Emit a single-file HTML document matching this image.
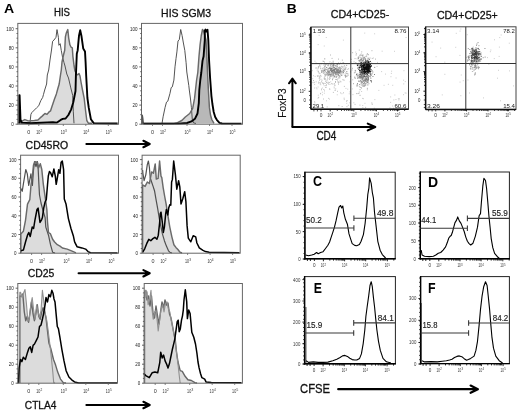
<!DOCTYPE html>
<html><head><meta charset="utf-8"><style>
html,body{margin:0;padding:0;background:#fff;}
svg{display:block;will-change:transform;font-family:"Liberation Sans",sans-serif;}
</style></head><body>
<svg width="520" height="413" viewBox="0 0 520 413">
<rect width="520" height="413" fill="#fff"/>
<text x="4.0" y="13.3" font-size="12.01" font-weight="bold" fill="#000" textLength="10.2" lengthAdjust="spacingAndGlyphs" >A</text>
<text x="54.0" y="16.4" font-size="11.03" font-weight="normal" fill="#111" stroke="#111" stroke-width="0.3" textLength="16.0" lengthAdjust="spacingAndGlyphs" >HIS</text>
<text x="161.1" y="16.5" font-size="11.17" font-weight="normal" fill="#111" stroke="#111" stroke-width="0.3" textLength="50.1" lengthAdjust="spacingAndGlyphs" >HIS SGM3</text>
<text x="25.6" y="149.0" font-size="11.03" font-weight="normal" fill="#111" stroke="#111" stroke-width="0.3" textLength="42.5" lengthAdjust="spacingAndGlyphs" >CD45RO</text>
<text x="27.8" y="277.2" font-size="11.03" font-weight="normal" fill="#111" stroke="#111" stroke-width="0.3" textLength="26.6" lengthAdjust="spacingAndGlyphs" >CD25</text>
<text x="24.8" y="408.5" font-size="11.03" font-weight="normal" fill="#111" stroke="#111" stroke-width="0.3" textLength="31.7" lengthAdjust="spacingAndGlyphs" >CTLA4</text>
<path d="M86.4 144.0H148.7M143.4 140.8L149.7 144.0L143.4 147.2" fill="none" stroke="#000" stroke-width="2.1" stroke-linecap="round" stroke-linejoin="round"/>
<path d="M78.6 273.3H148.7M143.4 270.1L149.7 273.3L143.4 276.5" fill="none" stroke="#000" stroke-width="2.1" stroke-linecap="round" stroke-linejoin="round"/>
<path d="M86.4 405.0H148.7M143.4 401.8L149.7 405.0L143.4 408.2" fill="none" stroke="#000" stroke-width="2.1" stroke-linecap="round" stroke-linejoin="round"/>
<path d="M18.5 123.3L21.4 121.3L24.8 119.6L28.3 120.9L34.4 120.5L37.9 120.0L40.1 117.9L42.2 116.1L44.0 114.4L44.9 113.5L47.0 114.4L48.8 112.2L50.5 110.9L51.8 107.0L52.9 103.7L54.5 99.0L56.4 93.9L58.0 88.0L59.2 84.0L60.5 75.0L61.3 70.0L62.0 62.0L63.5 55.0L64.7 50.2L65.4 36.9L66.2 33.3L67.8 29.6L68.7 38.1L69.9 44.8L71.1 47.2L72.3 47.8L72.9 56.3L74.1 66.0L75.0 71.0L76.5 74.0L77.7 74.8L79.0 73.5L80.0 76.0L81.0 82.0L82.5 90.0L84.2 98.3L85.5 110.0L86.8 120.5L88.5 123.3L92.0 123.3Z" fill="#dcdcdc" stroke="none" stroke-width="1" stroke-linejoin="round"/>
<path d="M18.5 123.3L30.0 122.6L30.9 114.4L31.8 112.6L34.4 110.0L36.6 107.8L38.8 105.7L39.8 103.0L40.9 100.4L42.7 97.4L43.5 94.4L44.7 90.0L46.6 84.0L47.3 75.0L48.7 70.0L50.0 60.0L51.5 50.0L52.6 41.3L54.0 40.0L56.0 37.3L57.0 29.6L58.4 37.3L58.9 45.3L60.2 43.7L61.3 50.6L62.6 57.5L64.0 62.6L65.0 66.0L66.8 74.0L68.5 78.0L70.8 87.9L72.7 95.4L73.3 111.8L74.0 123.3" fill="none" stroke="#4a4a4a" stroke-width="0.95" stroke-linejoin="round"/>
<path d="M18.5 123.3L21.4 121.3L24.8 119.6L28.3 120.9L34.4 120.5L37.9 120.0L40.1 117.9L42.2 116.1L44.0 114.4L44.9 113.5L47.0 114.4L48.8 112.2L50.5 110.9L51.8 107.0L52.9 103.7L54.5 99.0L56.4 93.9L58.0 88.0L59.2 84.0L60.5 75.0L61.3 70.0L62.0 62.0L63.5 55.0L64.7 50.2L65.4 36.9L66.2 33.3L67.8 29.6L68.7 38.1L69.9 44.8L71.1 47.2L72.3 47.8L72.9 56.3L74.1 66.0L75.0 71.0L76.5 74.0L77.7 74.8L79.0 73.5L80.0 76.0L81.0 82.0L82.5 90.0L84.2 98.3L85.5 110.0L86.8 120.5L88.5 123.3L92.0 123.3" fill="none" stroke="#6a6a6a" stroke-width="1.45" stroke-linejoin="round"/>
<path d="M19.3 123.3L19.3 95.2L19.6 95.2L20.5 119.6L21.8 122.6L30.0 123.2L52.9 122.2L57.0 122.6L60.7 119.9L62.8 118.9L65.6 118.5L68.4 115.0L71.2 109.3L73.3 102.3L75.5 91.0L75.9 76.0L76.8 53.8L77.7 50.2L79.0 35.7L80.2 30.2L81.4 35.7L83.2 48.4L85.0 51.4L85.6 62.3L86.2 76.0L87.4 98.0L88.8 108.0L90.9 119.2L93.7 123.1L117.6 123.5" fill="none" stroke="#000" stroke-width="1.9" stroke-linejoin="round"/>
<path d="M142.5 123.5L174.0 123.4L177.5 122.7L181.8 120.5L185.3 117.0L189.7 113.5L192.7 108.3L194.5 98.7L195.5 90.0L196.6 80.0L197.8 72.5L199.0 56.2L200.1 44.6L201.2 36.0L202.5 29.5L203.5 31.0L205.0 36.0L206.0 40.0L206.8 55.0L207.5 72.0L208.4 90.0L209.4 107.4L210.5 115.0L211.8 119.5L214.0 123.3Z" fill="#d6d6d6" stroke="none" stroke-width="1" stroke-linejoin="round"/>
<path d="M191.4 121.4L194.9 118.8L197.5 113.5L198.8 103.1L199.3 90.0L200.3 80.0L201.3 72.5L202.5 60.9L203.6 56.2L204.2 48.0L204.8 40.0L204.8 31.0L206.0 40.0L206.8 55.0L207.5 72.0L208.4 90.0L209.4 107.4L210.5 115.0L211.8 119.5L214.0 123.3L191.4 123.3Z" fill="#b8b8b8" stroke="none" stroke-width="1" stroke-linejoin="round"/>
<path d="M142.0 123.5L162.0 123.6L163.1 116.8L165.1 107.3L166.5 102.1L167.8 101.2L169.9 93.7L171.2 87.6L172.3 86.9L173.9 80.1L175.0 66.8L176.0 58.6L176.9 51.9L178.0 41.0L179.3 39.6L180.7 29.5L182.1 35.6L183.4 43.0L184.8 50.5L186.1 62.7L186.8 72.0L188.8 85.6L189.3 90.0L190.5 99.0L191.4 107.4L192.3 119.6L193.6 122.9L196.0 123.5" fill="none" stroke="#4a4a4a" stroke-width="0.95" stroke-linejoin="round"/>
<path d="M142.5 123.5L174.0 123.4L177.5 122.7L181.8 120.5L185.3 117.0L189.7 113.5L192.7 108.3L194.5 98.7L195.5 90.0L196.6 80.0L197.8 72.5L199.0 56.2L200.1 44.6L201.2 36.0L202.5 29.5L203.5 31.0L205.0 36.0L206.0 40.0L206.8 55.0L207.5 72.0L208.4 90.0L209.4 107.4L210.5 115.0L211.8 119.5L214.0 123.3" fill="none" stroke="#6a6a6a" stroke-width="1.45" stroke-linejoin="round"/>
<path d="M142.4 123.6L142.4 115.0L142.9 118.0L143.5 123.6" fill="none" stroke="#555" stroke-width="1.1" stroke-linejoin="round"/>
<path d="M143.5 123.6L178.4 123.6L187.1 123.0L191.4 121.4L194.9 118.8L197.5 113.5L198.8 103.1L199.3 90.0L200.3 80.0L201.3 72.5L202.5 60.9L203.6 56.2L204.2 48.0L204.8 40.0L204.8 30.7L205.5 29.5L206.2 31.5L207.5 29.8L208.3 40.0L209.1 60.9L210.1 78.0L211.4 95.8L212.4 104.0L213.7 112.0L215.2 117.0L216.8 119.8L219.5 122.8L222.0 123.5L241.5 123.6" fill="none" stroke="#000" stroke-width="1.9" stroke-linejoin="round"/>
<path d="M20.8 253.0L20.8 234.0L23.4 231.2L25.5 220.3L27.5 204.1L29.8 199.7L31.0 185.0L32.4 176.1L33.5 165.0L35.0 161.8L36.5 162.0L37.6 163.0L38.5 168.0L40.3 163.7L41.8 169.5L43.3 184.1L45.4 198.6L46.9 210.2L47.5 222.0L48.5 232.5L50.5 233.9L52.6 239.3L54.6 242.0L57.3 244.7L60.0 246.1L62.4 248.0L67.2 249.1L73.3 251.6L76.0 252.8Z" fill="#dcdcdc" stroke="none" stroke-width="1" stroke-linejoin="round"/>
<path d="M20.7 188.4L22.2 191.3L23.6 182.6L25.8 169.5L27.3 173.9L28.7 185.5L30.9 173.9L32.4 185.5L33.5 170.0L34.5 161.5L36.0 166.6L37.4 161.5L38.2 169.5L38.9 184.1L39.5 195.0L41.0 203.0L43.1 210.8L45.1 217.6L45.8 227.1L48.5 235.2L50.5 244.7L52.6 252.2L55.0 253.0" fill="none" stroke="#505050" stroke-width="1.2" stroke-linejoin="round"/>
<path d="M20.8 253.0L20.8 234.0L23.4 231.2L25.5 220.3L27.5 204.1L29.8 199.7L31.0 185.0L32.4 176.1L33.5 165.0L35.0 161.8L36.5 162.0L37.6 163.0L38.5 168.0L40.3 163.7L41.8 169.5L43.3 184.1L45.4 198.6L46.9 210.2L47.5 222.0L48.5 232.5L50.5 233.9L52.6 239.3L54.6 242.0L57.3 244.7L60.0 246.1L62.4 248.0L67.2 249.1L73.3 251.6L76.0 252.8" fill="none" stroke="#6a6a6a" stroke-width="1.45" stroke-linejoin="round"/>
<path d="M20.7 250.8L23.4 250.1L25.5 242.0L27.5 235.2L28.8 232.5L30.2 236.6L32.2 227.1L33.6 228.5L34.9 220.3L37.0 209.5L38.1 208.1L39.0 214.9L40.0 222.4L41.7 219.6L42.4 217.6L43.7 208.1L45.1 202.0L46.3 199.5L47.5 185.0L48.3 176.0L49.4 171.6L50.7 172.9L52.2 176.8L53.9 169.0L55.3 176.2L56.2 184.3L57.0 180.0L58.7 169.7L59.9 173.3L61.1 162.3L62.3 161.1L63.6 169.7L64.3 199.0L66.0 203.9L68.4 218.6L70.9 228.3L73.3 235.7L74.6 241.8L77.0 246.7L81.9 247.9L85.6 249.1L88.0 251.6L90.5 252.8L117.5 253.0" fill="none" stroke="#000" stroke-width="1.5" stroke-linejoin="round"/>
<path d="M142.6 253.0L142.6 184.9L145.1 186.4L147.3 182.0L149.4 183.5L151.6 171.9L153.4 173.3L155.2 163.9L156.3 179.1L158.1 178.4L159.6 161.0L161.0 176.2L161.8 177.7L163.2 187.8L164.7 196.5L166.1 203.8L167.8 214.9L169.8 227.1L171.8 236.6L173.9 244.7L175.9 247.4L177.9 249.5L180.0 252.2L182.0 253.0Z" fill="#dcdcdc" stroke="none" stroke-width="1" stroke-linejoin="round"/>
<path d="M142.6 170.0L142.9 173.3L144.1 180.6L145.8 174.8L147.3 164.6L148.4 161.0L149.4 167.5L150.2 177.7L151.6 182.0L153.1 186.4L154.5 190.7L156.0 199.4L157.6 208.1L159.6 220.3L162.4 233.9L164.4 240.7L166.4 246.1L168.5 250.8L169.8 252.2L172.0 253.0" fill="none" stroke="#505050" stroke-width="1.2" stroke-linejoin="round"/>
<path d="M142.6 253.0L142.6 184.9L145.1 186.4L147.3 182.0L149.4 183.5L151.6 171.9L153.4 173.3L155.2 163.9L156.3 179.1L158.1 178.4L159.6 161.0L161.0 176.2L161.8 177.7L163.2 187.8L164.7 196.5L166.1 203.8L167.8 214.9L169.8 227.1L171.8 236.6L173.9 244.7L175.9 247.4L177.9 249.5L180.0 252.2L182.0 253.0" fill="none" stroke="#6a6a6a" stroke-width="1.45" stroke-linejoin="round"/>
<path d="M142.7 252.2L144.7 248.8L146.8 243.4L148.8 239.3L150.8 240.7L152.9 238.6L154.9 237.3L156.9 239.3L158.3 235.2L159.6 223.0L160.3 213.6L161.0 212.2L162.4 223.0L163.3 232.5L164.4 227.1L165.7 213.6L166.4 209.5L167.8 214.9L168.7 208.1L169.8 204.7L170.8 205.2L171.6 182.0L172.4 179.4L173.7 161.1L175.4 174.6L176.8 189.2L178.6 180.7L179.8 186.8L181.0 203.9L182.7 199.0L184.7 191.7L185.9 201.5L187.1 225.9L188.3 238.1L190.8 241.8L193.2 235.7L195.7 236.9L196.9 243.0L199.3 247.9L203.0 250.4L205.5 251.6L209.1 252.3L239.5 252.8" fill="none" stroke="#000" stroke-width="1.5" stroke-linejoin="round"/>
<path d="M19.8 383.0L19.8 296.0L21.4 296.1L22.8 293.9L24.3 312.0L25.7 320.7L27.2 316.4L28.6 322.2L30.1 312.0L31.5 301.9L33.0 313.5L34.4 320.7L35.9 313.5L37.3 304.8L38.8 316.4L40.2 319.3L41.7 312.0L43.1 307.7L44.6 312.0L46.0 317.8L47.5 330.9L48.9 343.0L50.7 348.2L53.5 359.5L55.6 365.1L57.7 372.1L60.5 379.1L63.3 382.6L66.0 383.0Z" fill="#dcdcdc" stroke="none" stroke-width="1" stroke-linejoin="round"/>
<path d="M19.8 383.0L19.8 292.4L20.6 292.4L22.1 297.5L23.5 293.2L25.0 289.5L26.4 303.3L27.9 321.5L29.3 317.8L30.8 304.8L32.2 297.5L33.7 310.6L35.1 319.3L36.6 304.8L38.0 312.0L39.5 317.1L41.0 310.6L42.4 290.3L43.9 301.9L45.3 313.5L46.8 320.7L48.2 330.9L49.7 343.0L51.4 358.0L52.8 372.1L53.7 382.6L55.0 383.0Z" fill="#dcdcdc" stroke="none" stroke-width="1" stroke-linejoin="round"/>
<path d="M19.8 383.0L19.8 296.0L21.4 296.1L22.8 293.9L24.3 312.0L25.7 320.7L27.2 316.4L28.6 322.2L30.1 312.0L31.5 301.9L33.0 313.5L34.4 320.7L35.9 313.5L37.3 304.8L38.8 316.4L40.2 319.3L41.7 312.0L43.1 307.7L44.6 312.0L46.0 317.8L47.5 330.9L48.9 343.0L50.7 348.2L53.5 359.5L55.6 365.1L57.7 372.1L60.5 379.1L63.3 382.6L66.0 383.0" fill="none" stroke="#666" stroke-width="1.4" stroke-linejoin="round"/>
<path d="M19.8 383.0L19.8 292.4L20.6 292.4L22.1 297.5L23.5 293.2L25.0 289.5L26.4 303.3L27.9 321.5L29.3 317.8L30.8 304.8L32.2 297.5L33.7 310.6L35.1 319.3L36.6 304.8L38.0 312.0L39.5 317.1L41.0 310.6L42.4 290.3L43.9 301.9L45.3 313.5L46.8 320.7L48.2 330.9L49.7 343.0L51.4 358.0L52.8 372.1L53.7 382.6L55.0 383.0" fill="none" stroke="#909090" stroke-width="1.1" stroke-linejoin="round"/>
<path d="M18.4 383.3L19.1 367.9L20.5 359.5L21.9 361.6L23.3 357.3L25.4 359.5L27.5 352.4L28.9 348.2L30.3 346.8L31.7 352.4L33.1 345.4L34.5 344.0L36.6 339.8L38.0 337.0L39.5 326.5L41.0 325.1L42.4 319.3L43.9 312.0L45.3 303.3L46.0 297.5L47.5 301.9L48.9 294.6L50.4 296.8L51.8 290.3L53.0 293.2L54.0 299.0L55.0 301.9L56.2 314.9L57.3 326.5L58.4 328.7L59.8 336.7L61.9 349.6L64.0 360.9L66.1 370.7L68.9 377.0L71.7 379.8L74.5 381.9L78.7 383.0L117.0 383.0" fill="none" stroke="#000" stroke-width="1.5" stroke-linejoin="round"/>
<path d="M144.5 383.0L144.5 295.0L145.9 290.5L147.0 300.0L148.5 296.0L150.0 306.0L151.5 296.0L153.0 313.0L154.5 318.0L156.0 306.0L157.5 316.0L159.0 324.0L160.5 312.0L162.0 302.0L163.5 308.0L165.0 300.0L166.5 305.0L168.0 303.0L169.5 314.0L171.0 318.0L172.5 326.0L174.0 334.0L175.3 340.0L176.5 352.0L178.0 362.0L180.2 370.7L182.3 371.4L185.1 376.3L187.9 379.8L191.4 380.5L194.9 382.6L197.0 383.0Z" fill="#dcdcdc" stroke="none" stroke-width="1" stroke-linejoin="round"/>
<path d="M144.5 383.0L144.5 292.0L145.2 290.3L145.9 297.5L147.1 291.7L148.1 304.8L149.5 300.4L151.0 290.3L152.0 309.1L153.2 319.3L154.6 312.0L156.1 310.6L157.5 323.6L158.2 330.9L159.7 319.3L161.1 309.1L162.6 304.8L164.0 312.0L165.5 303.3L167.0 301.9L168.4 309.1L169.9 312.0L171.3 320.7L172.8 328.0L174.2 335.2L176.0 348.2L178.1 365.1L179.5 377.7L180.2 383.0Z" fill="#dcdcdc" stroke="none" stroke-width="1" stroke-linejoin="round"/>
<path d="M144.5 383.0L144.5 295.0L145.9 290.5L147.0 300.0L148.5 296.0L150.0 306.0L151.5 296.0L153.0 313.0L154.5 318.0L156.0 306.0L157.5 316.0L159.0 324.0L160.5 312.0L162.0 302.0L163.5 308.0L165.0 300.0L166.5 305.0L168.0 303.0L169.5 314.0L171.0 318.0L172.5 326.0L174.0 334.0L175.3 340.0L176.5 352.0L178.0 362.0L180.2 370.7L182.3 371.4L185.1 376.3L187.9 379.8L191.4 380.5L194.9 382.6L197.0 383.0" fill="none" stroke="#666" stroke-width="1.4" stroke-linejoin="round"/>
<path d="M144.5 383.0L144.5 292.0L145.2 290.3L145.9 297.5L147.1 291.7L148.1 304.8L149.5 300.4L151.0 290.3L152.0 309.1L153.2 319.3L154.6 312.0L156.1 310.6L157.5 323.6L158.2 330.9L159.7 319.3L161.1 309.1L162.6 304.8L164.0 312.0L165.5 303.3L167.0 301.9L168.4 309.1L169.9 312.0L171.3 320.7L172.8 328.0L174.2 335.2L176.0 348.2L178.1 365.1L179.5 377.7L180.2 383.0" fill="none" stroke="#909090" stroke-width="1.1" stroke-linejoin="round"/>
<path d="M143.7 373.5L145.8 375.6L149.3 377.7L152.1 372.8L154.9 372.1L157.7 372.8L159.8 362.3L160.7 352.2L162.2 358.0L163.6 355.1L165.1 360.9L166.5 363.8L168.0 368.1L169.4 363.8L170.9 356.5L172.4 349.2L173.8 343.4L174.8 339.1L176.0 330.3L177.2 321.6L178.2 320.2L179.2 331.8L180.3 328.9L181.5 320.2L182.5 315.8L183.3 310.0L184.0 300.0L185.3 289.8L186.7 301.6L187.4 318.6L188.7 310.1L190.1 313.5L191.8 332.2L193.8 337.2L195.5 344.0L196.9 353.0L198.0 362.0L199.1 367.9L200.5 373.5L201.9 377.7L204.7 379.1L206.0 381.9L211.3 382.5L241.5 382.8" fill="none" stroke="#000" stroke-width="1.5" stroke-linejoin="round"/>
<path d="M305.6 255.0L308.5 255.8L311.7 255.0L314.2 254.2L316.6 252.5L318.2 253.7L320.6 252.5L323.1 251.7L325.5 248.5L327.9 245.2L329.6 242.0L331.2 237.1L332.8 232.3L334.4 227.4L336.0 220.9L337.7 212.8L339.0 207.2L340.6 205.5L341.7 208.0L342.8 206.0L343.8 212.8L345.4 219.3L347.4 224.2L349.0 233.9L350.6 238.8L352.2 243.6L354.7 245.4L356.7 245.7L359.4 244.6L361.1 241.3L363.4 234.6L365.1 223.5L366.7 207.9L367.8 194.5L368.9 187.8L369.6 177.8L371.2 183.4L372.3 192.3L373.4 197.8L374.5 212.3L376.3 227.9L377.8 241.3L380.1 250.2L382.3 254.6L385.6 258.0" fill="none" stroke="#000" stroke-width="1.1" stroke-linejoin="round"/>
<path d="M421.2 250.1L422.1 255.0L424.5 256.3L429.3 256.6L433.4 256.3L435.8 255.0L438.3 253.3L440.7 252.5L443.1 250.1L445.6 246.9L447.2 242.8L448.8 238.0L450.1 236.3L451.2 235.5L452.4 232.3L453.7 227.4L455.0 222.6L456.6 220.1L457.7 216.9L459.3 220.9L461.0 223.4L462.6 227.4L464.2 231.5L465.8 237.1L467.4 241.2L469.1 243.6L470.7 245.0L473.0 243.2L475.3 236.3L477.5 227.2L479.1 215.8L480.5 213.6L481.4 202.2L482.8 186.2L483.9 178.3L485.5 180.5L486.6 188.5L487.8 202.2L488.9 215.8L490.1 227.2L491.2 238.6L492.8 247.7L494.6 253.4L498.0 257.3L500.3 259.1" fill="none" stroke="#000" stroke-width="1.1" stroke-linejoin="round"/>
<path d="M305.9 306.9L305.9 363.5" fill="none" stroke="#555" stroke-width="1.1" stroke-linejoin="round"/>
<path d="M306.1 360.8L308.5 362.4L313.3 361.9L318.2 362.4L323.1 362.4L327.9 362.1L332.8 360.8L336.8 359.2L340.1 357.5L342.5 355.9L345.0 355.4L347.4 356.4L349.8 358.3L352.2 359.6L354.7 360.0L356.8 360.0L359.6 358.4L361.4 353.9L363.2 343.6L364.8 330.0L365.9 316.3L367.1 307.2L368.7 295.8L370.0 285.5L371.2 281.7L372.3 286.7L373.5 298.1L374.6 307.2L375.7 318.6L376.9 330.0L378.5 341.3L380.3 350.4L383.0 358.4L386.4 361.8L391.0 363.0" fill="none" stroke="#000" stroke-width="1.1" stroke-linejoin="round"/>
<path d="M421.2 303.0L421.2 362.9" fill="none" stroke="#555" stroke-width="1.1" stroke-linejoin="round"/>
<path d="M422.1 360.8L424.5 361.9L431.0 361.6L437.4 361.9L442.3 361.3L446.4 360.8L449.6 360.0L452.0 359.2L454.5 357.5L456.9 356.4L459.3 355.9L461.8 356.7L464.2 358.7L466.6 360.3L468.4 359.6L470.7 358.4L474.1 356.1L475.9 350.4L477.5 341.3L479.1 325.4L480.5 309.4L482.1 295.8L483.7 286.7L485.5 281.7L487.1 285.5L488.2 295.8L489.6 309.4L490.7 323.1L491.9 336.8L493.5 348.2L495.8 356.1L499.2 360.7L502.6 363.0" fill="none" stroke="#000" stroke-width="1.1" stroke-linejoin="round"/>
<rect x="17.8" y="23.4" width="100.7" height="100.8" fill="none" stroke="#666" stroke-width="1"/>
<text x="11.3" y="126.2" font-size="5.6" fill="#222" textLength="2.5" lengthAdjust="spacingAndGlyphs">0</text>
<text x="8.8" y="107.1" font-size="5.6" fill="#222" textLength="5.0" lengthAdjust="spacingAndGlyphs">20</text>
<text x="8.8" y="88.0" font-size="5.6" fill="#222" textLength="5.0" lengthAdjust="spacingAndGlyphs">40</text>
<text x="8.8" y="68.9" font-size="5.6" fill="#222" textLength="5.0" lengthAdjust="spacingAndGlyphs">60</text>
<text x="8.8" y="49.8" font-size="5.6" fill="#222" textLength="5.0" lengthAdjust="spacingAndGlyphs">80</text>
<text x="6.3" y="30.7" font-size="5.6" fill="#222" textLength="7.5" lengthAdjust="spacingAndGlyphs">100</text>
<line x1="15.6" y1="124.2" x2="17.8" y2="124.2" stroke="#555" stroke-width="0.9"/>
<line x1="15.6" y1="105.1" x2="17.8" y2="105.1" stroke="#555" stroke-width="0.9"/>
<line x1="15.6" y1="86.0" x2="17.8" y2="86.0" stroke="#555" stroke-width="0.9"/>
<line x1="15.6" y1="66.9" x2="17.8" y2="66.9" stroke="#555" stroke-width="0.9"/>
<line x1="15.6" y1="47.8" x2="17.8" y2="47.8" stroke="#555" stroke-width="0.9"/>
<line x1="15.6" y1="28.7" x2="17.8" y2="28.7" stroke="#555" stroke-width="0.9"/>
<path d="M17.8 119.4h-1.3M17.8 114.7h-1.3M17.8 109.9h-1.3M17.8 100.3h-1.3M17.8 95.6h-1.3M17.8 90.8h-1.3M17.8 81.2h-1.3M17.8 76.5h-1.3M17.8 71.7h-1.3M17.8 62.1h-1.3M17.8 57.4h-1.3M17.8 52.6h-1.3M17.8 43.0h-1.3M17.8 38.2h-1.3M17.8 33.5h-1.3" stroke="#555" stroke-width="0.9" fill="none"/>
<text x="28.8" y="134.0" font-size="5.4" fill="#333" text-anchor="middle">0</text>
<text x="36.2" y="134.0" font-size="5.4" fill="#333" textLength="4.1" lengthAdjust="spacingAndGlyphs">10</text><text x="40.5" y="131.9" font-size="3.2" fill="#333">2</text>
<text x="60.7" y="134.0" font-size="5.4" fill="#333" textLength="4.1" lengthAdjust="spacingAndGlyphs">10</text><text x="65.0" y="131.9" font-size="3.2" fill="#333">3</text>
<text x="83.2" y="134.0" font-size="5.4" fill="#333" textLength="4.1" lengthAdjust="spacingAndGlyphs">10</text><text x="87.5" y="131.9" font-size="3.2" fill="#333">4</text>
<text x="105.7" y="134.0" font-size="5.4" fill="#333" textLength="4.1" lengthAdjust="spacingAndGlyphs">10</text><text x="110.0" y="131.9" font-size="3.2" fill="#333">5</text>
<line x1="28.8" y1="124.2" x2="28.8" y2="126.0" stroke="#666" stroke-width="0.8"/>
<line x1="38.8" y1="124.2" x2="38.8" y2="126.0" stroke="#666" stroke-width="0.8"/>
<line x1="63.3" y1="124.2" x2="63.3" y2="126.0" stroke="#666" stroke-width="0.8"/>
<line x1="85.8" y1="124.2" x2="85.8" y2="126.0" stroke="#666" stroke-width="0.8"/>
<line x1="108.3" y1="124.2" x2="108.3" y2="126.0" stroke="#666" stroke-width="0.8"/>
<rect x="141.5" y="23.4" width="101.0" height="100.8" fill="none" stroke="#666" stroke-width="1"/>
<text x="135.0" y="126.2" font-size="5.6" fill="#222" textLength="2.5" lengthAdjust="spacingAndGlyphs">0</text>
<text x="132.5" y="107.1" font-size="5.6" fill="#222" textLength="5.0" lengthAdjust="spacingAndGlyphs">20</text>
<text x="132.5" y="88.0" font-size="5.6" fill="#222" textLength="5.0" lengthAdjust="spacingAndGlyphs">40</text>
<text x="132.5" y="68.9" font-size="5.6" fill="#222" textLength="5.0" lengthAdjust="spacingAndGlyphs">60</text>
<text x="132.5" y="49.8" font-size="5.6" fill="#222" textLength="5.0" lengthAdjust="spacingAndGlyphs">80</text>
<text x="130.0" y="30.7" font-size="5.6" fill="#222" textLength="7.5" lengthAdjust="spacingAndGlyphs">100</text>
<line x1="139.3" y1="124.2" x2="141.5" y2="124.2" stroke="#555" stroke-width="0.9"/>
<line x1="139.3" y1="105.1" x2="141.5" y2="105.1" stroke="#555" stroke-width="0.9"/>
<line x1="139.3" y1="86.0" x2="141.5" y2="86.0" stroke="#555" stroke-width="0.9"/>
<line x1="139.3" y1="66.9" x2="141.5" y2="66.9" stroke="#555" stroke-width="0.9"/>
<line x1="139.3" y1="47.8" x2="141.5" y2="47.8" stroke="#555" stroke-width="0.9"/>
<line x1="139.3" y1="28.7" x2="141.5" y2="28.7" stroke="#555" stroke-width="0.9"/>
<path d="M141.5 119.4h-1.3M141.5 114.7h-1.3M141.5 109.9h-1.3M141.5 100.3h-1.3M141.5 95.6h-1.3M141.5 90.8h-1.3M141.5 81.2h-1.3M141.5 76.5h-1.3M141.5 71.7h-1.3M141.5 62.1h-1.3M141.5 57.4h-1.3M141.5 52.6h-1.3M141.5 43.0h-1.3M141.5 38.2h-1.3M141.5 33.5h-1.3" stroke="#555" stroke-width="0.9" fill="none"/>
<text x="152.5" y="134.0" font-size="5.4" fill="#333" text-anchor="middle">0</text>
<text x="159.9" y="134.0" font-size="5.4" fill="#333" textLength="4.1" lengthAdjust="spacingAndGlyphs">10</text><text x="164.2" y="131.9" font-size="3.2" fill="#333">2</text>
<text x="184.4" y="134.0" font-size="5.4" fill="#333" textLength="4.1" lengthAdjust="spacingAndGlyphs">10</text><text x="188.7" y="131.9" font-size="3.2" fill="#333">3</text>
<text x="206.9" y="134.0" font-size="5.4" fill="#333" textLength="4.1" lengthAdjust="spacingAndGlyphs">10</text><text x="211.2" y="131.9" font-size="3.2" fill="#333">4</text>
<text x="229.4" y="134.0" font-size="5.4" fill="#333" textLength="4.1" lengthAdjust="spacingAndGlyphs">10</text><text x="233.7" y="131.9" font-size="3.2" fill="#333">5</text>
<line x1="152.5" y1="124.2" x2="152.5" y2="126.0" stroke="#666" stroke-width="0.8"/>
<line x1="162.5" y1="124.2" x2="162.5" y2="126.0" stroke="#666" stroke-width="0.8"/>
<line x1="187.0" y1="124.2" x2="187.0" y2="126.0" stroke="#666" stroke-width="0.8"/>
<line x1="209.5" y1="124.2" x2="209.5" y2="126.0" stroke="#666" stroke-width="0.8"/>
<line x1="232.0" y1="124.2" x2="232.0" y2="126.0" stroke="#666" stroke-width="0.8"/>
<rect x="20.6" y="155.2" width="97.9" height="98.0" fill="none" stroke="#666" stroke-width="1"/>
<text x="14.1" y="255.2" font-size="5.6" fill="#222" textLength="2.5" lengthAdjust="spacingAndGlyphs">0</text>
<text x="11.6" y="236.5" font-size="5.6" fill="#222" textLength="5.0" lengthAdjust="spacingAndGlyphs">20</text>
<text x="11.6" y="217.8" font-size="5.6" fill="#222" textLength="5.0" lengthAdjust="spacingAndGlyphs">40</text>
<text x="11.6" y="199.0" font-size="5.6" fill="#222" textLength="5.0" lengthAdjust="spacingAndGlyphs">60</text>
<text x="11.6" y="180.3" font-size="5.6" fill="#222" textLength="5.0" lengthAdjust="spacingAndGlyphs">80</text>
<text x="9.1" y="161.6" font-size="5.6" fill="#222" textLength="7.5" lengthAdjust="spacingAndGlyphs">100</text>
<line x1="18.4" y1="253.2" x2="20.6" y2="253.2" stroke="#555" stroke-width="0.9"/>
<line x1="18.4" y1="234.5" x2="20.6" y2="234.5" stroke="#555" stroke-width="0.9"/>
<line x1="18.4" y1="215.8" x2="20.6" y2="215.8" stroke="#555" stroke-width="0.9"/>
<line x1="18.4" y1="197.0" x2="20.6" y2="197.0" stroke="#555" stroke-width="0.9"/>
<line x1="18.4" y1="178.3" x2="20.6" y2="178.3" stroke="#555" stroke-width="0.9"/>
<line x1="18.4" y1="159.6" x2="20.6" y2="159.6" stroke="#555" stroke-width="0.9"/>
<path d="M20.6 248.5h-1.3M20.6 243.8h-1.3M20.6 239.2h-1.3M20.6 229.8h-1.3M20.6 225.1h-1.3M20.6 220.4h-1.3M20.6 211.1h-1.3M20.6 206.4h-1.3M20.6 201.7h-1.3M20.6 192.4h-1.3M20.6 187.7h-1.3M20.6 183.0h-1.3M20.6 173.6h-1.3M20.6 169.0h-1.3M20.6 164.3h-1.3" stroke="#555" stroke-width="0.9" fill="none"/>
<text x="31.6" y="263.0" font-size="5.4" fill="#333" text-anchor="middle">0</text>
<text x="39.0" y="263.0" font-size="5.4" fill="#333" textLength="4.1" lengthAdjust="spacingAndGlyphs">10</text><text x="43.3" y="260.9" font-size="3.2" fill="#333">2</text>
<text x="63.5" y="263.0" font-size="5.4" fill="#333" textLength="4.1" lengthAdjust="spacingAndGlyphs">10</text><text x="67.8" y="260.9" font-size="3.2" fill="#333">3</text>
<text x="86.0" y="263.0" font-size="5.4" fill="#333" textLength="4.1" lengthAdjust="spacingAndGlyphs">10</text><text x="90.3" y="260.9" font-size="3.2" fill="#333">4</text>
<text x="108.5" y="263.0" font-size="5.4" fill="#333" textLength="4.1" lengthAdjust="spacingAndGlyphs">10</text><text x="112.8" y="260.9" font-size="3.2" fill="#333">5</text>
<line x1="31.6" y1="253.2" x2="31.6" y2="255.0" stroke="#666" stroke-width="0.8"/>
<line x1="41.6" y1="253.2" x2="41.6" y2="255.0" stroke="#666" stroke-width="0.8"/>
<line x1="66.1" y1="253.2" x2="66.1" y2="255.0" stroke="#666" stroke-width="0.8"/>
<line x1="88.6" y1="253.2" x2="88.6" y2="255.0" stroke="#666" stroke-width="0.8"/>
<line x1="111.1" y1="253.2" x2="111.1" y2="255.0" stroke="#666" stroke-width="0.8"/>
<rect x="142.1" y="155.2" width="98.1" height="98.0" fill="none" stroke="#666" stroke-width="1"/>
<text x="135.6" y="255.2" font-size="5.6" fill="#222" textLength="2.5" lengthAdjust="spacingAndGlyphs">0</text>
<text x="133.1" y="236.5" font-size="5.6" fill="#222" textLength="5.0" lengthAdjust="spacingAndGlyphs">20</text>
<text x="133.1" y="217.8" font-size="5.6" fill="#222" textLength="5.0" lengthAdjust="spacingAndGlyphs">40</text>
<text x="133.1" y="199.0" font-size="5.6" fill="#222" textLength="5.0" lengthAdjust="spacingAndGlyphs">60</text>
<text x="133.1" y="180.3" font-size="5.6" fill="#222" textLength="5.0" lengthAdjust="spacingAndGlyphs">80</text>
<text x="130.6" y="161.6" font-size="5.6" fill="#222" textLength="7.5" lengthAdjust="spacingAndGlyphs">100</text>
<line x1="139.9" y1="253.2" x2="142.1" y2="253.2" stroke="#555" stroke-width="0.9"/>
<line x1="139.9" y1="234.5" x2="142.1" y2="234.5" stroke="#555" stroke-width="0.9"/>
<line x1="139.9" y1="215.8" x2="142.1" y2="215.8" stroke="#555" stroke-width="0.9"/>
<line x1="139.9" y1="197.0" x2="142.1" y2="197.0" stroke="#555" stroke-width="0.9"/>
<line x1="139.9" y1="178.3" x2="142.1" y2="178.3" stroke="#555" stroke-width="0.9"/>
<line x1="139.9" y1="159.6" x2="142.1" y2="159.6" stroke="#555" stroke-width="0.9"/>
<path d="M142.1 248.5h-1.3M142.1 243.8h-1.3M142.1 239.2h-1.3M142.1 229.8h-1.3M142.1 225.1h-1.3M142.1 220.4h-1.3M142.1 211.1h-1.3M142.1 206.4h-1.3M142.1 201.7h-1.3M142.1 192.4h-1.3M142.1 187.7h-1.3M142.1 183.0h-1.3M142.1 173.6h-1.3M142.1 169.0h-1.3M142.1 164.3h-1.3" stroke="#555" stroke-width="0.9" fill="none"/>
<text x="153.1" y="263.0" font-size="5.4" fill="#333" text-anchor="middle">0</text>
<text x="160.5" y="263.0" font-size="5.4" fill="#333" textLength="4.1" lengthAdjust="spacingAndGlyphs">10</text><text x="164.8" y="260.9" font-size="3.2" fill="#333">2</text>
<text x="185.0" y="263.0" font-size="5.4" fill="#333" textLength="4.1" lengthAdjust="spacingAndGlyphs">10</text><text x="189.3" y="260.9" font-size="3.2" fill="#333">3</text>
<text x="207.5" y="263.0" font-size="5.4" fill="#333" textLength="4.1" lengthAdjust="spacingAndGlyphs">10</text><text x="211.8" y="260.9" font-size="3.2" fill="#333">4</text>
<text x="230.0" y="263.0" font-size="5.4" fill="#333" textLength="4.1" lengthAdjust="spacingAndGlyphs">10</text><text x="234.3" y="260.9" font-size="3.2" fill="#333">5</text>
<line x1="153.1" y1="253.2" x2="153.1" y2="255.0" stroke="#666" stroke-width="0.8"/>
<line x1="163.1" y1="253.2" x2="163.1" y2="255.0" stroke="#666" stroke-width="0.8"/>
<line x1="187.6" y1="253.2" x2="187.6" y2="255.0" stroke="#666" stroke-width="0.8"/>
<line x1="210.1" y1="253.2" x2="210.1" y2="255.0" stroke="#666" stroke-width="0.8"/>
<line x1="232.6" y1="253.2" x2="232.6" y2="255.0" stroke="#666" stroke-width="0.8"/>
<rect x="17.8" y="283.5" width="99.7" height="99.7" fill="none" stroke="#666" stroke-width="1"/>
<text x="11.3" y="385.2" font-size="5.6" fill="#222" textLength="2.5" lengthAdjust="spacingAndGlyphs">0</text>
<text x="8.8" y="366.2" font-size="5.6" fill="#222" textLength="5.0" lengthAdjust="spacingAndGlyphs">20</text>
<text x="8.8" y="347.2" font-size="5.6" fill="#222" textLength="5.0" lengthAdjust="spacingAndGlyphs">40</text>
<text x="8.8" y="328.2" font-size="5.6" fill="#222" textLength="5.0" lengthAdjust="spacingAndGlyphs">60</text>
<text x="8.8" y="309.2" font-size="5.6" fill="#222" textLength="5.0" lengthAdjust="spacingAndGlyphs">80</text>
<text x="6.3" y="290.2" font-size="5.6" fill="#222" textLength="7.5" lengthAdjust="spacingAndGlyphs">100</text>
<line x1="15.6" y1="383.2" x2="17.8" y2="383.2" stroke="#555" stroke-width="0.9"/>
<line x1="15.6" y1="364.2" x2="17.8" y2="364.2" stroke="#555" stroke-width="0.9"/>
<line x1="15.6" y1="345.2" x2="17.8" y2="345.2" stroke="#555" stroke-width="0.9"/>
<line x1="15.6" y1="326.2" x2="17.8" y2="326.2" stroke="#555" stroke-width="0.9"/>
<line x1="15.6" y1="307.2" x2="17.8" y2="307.2" stroke="#555" stroke-width="0.9"/>
<line x1="15.6" y1="288.2" x2="17.8" y2="288.2" stroke="#555" stroke-width="0.9"/>
<path d="M17.8 378.4h-1.3M17.8 373.7h-1.3M17.8 368.9h-1.3M17.8 359.4h-1.3M17.8 354.7h-1.3M17.8 349.9h-1.3M17.8 340.4h-1.3M17.8 335.7h-1.3M17.8 330.9h-1.3M17.8 321.4h-1.3M17.8 316.7h-1.3M17.8 311.9h-1.3M17.8 302.4h-1.3M17.8 297.7h-1.3M17.8 292.9h-1.3" stroke="#555" stroke-width="0.9" fill="none"/>
<text x="28.8" y="393.0" font-size="5.4" fill="#333" text-anchor="middle">0</text>
<text x="36.2" y="393.0" font-size="5.4" fill="#333" textLength="4.1" lengthAdjust="spacingAndGlyphs">10</text><text x="40.5" y="390.9" font-size="3.2" fill="#333">2</text>
<text x="60.7" y="393.0" font-size="5.4" fill="#333" textLength="4.1" lengthAdjust="spacingAndGlyphs">10</text><text x="65.0" y="390.9" font-size="3.2" fill="#333">3</text>
<text x="83.2" y="393.0" font-size="5.4" fill="#333" textLength="4.1" lengthAdjust="spacingAndGlyphs">10</text><text x="87.5" y="390.9" font-size="3.2" fill="#333">4</text>
<text x="105.7" y="393.0" font-size="5.4" fill="#333" textLength="4.1" lengthAdjust="spacingAndGlyphs">10</text><text x="110.0" y="390.9" font-size="3.2" fill="#333">5</text>
<line x1="28.8" y1="383.2" x2="28.8" y2="385.0" stroke="#666" stroke-width="0.8"/>
<line x1="38.8" y1="383.2" x2="38.8" y2="385.0" stroke="#666" stroke-width="0.8"/>
<line x1="63.3" y1="383.2" x2="63.3" y2="385.0" stroke="#666" stroke-width="0.8"/>
<line x1="85.8" y1="383.2" x2="85.8" y2="385.0" stroke="#666" stroke-width="0.8"/>
<line x1="108.3" y1="383.2" x2="108.3" y2="385.0" stroke="#666" stroke-width="0.8"/>
<rect x="144.2" y="283.5" width="98.2" height="99.7" fill="none" stroke="#666" stroke-width="1"/>
<text x="137.7" y="385.2" font-size="5.6" fill="#222" textLength="2.5" lengthAdjust="spacingAndGlyphs">0</text>
<text x="135.2" y="366.2" font-size="5.6" fill="#222" textLength="5.0" lengthAdjust="spacingAndGlyphs">20</text>
<text x="135.2" y="347.2" font-size="5.6" fill="#222" textLength="5.0" lengthAdjust="spacingAndGlyphs">40</text>
<text x="135.2" y="328.2" font-size="5.6" fill="#222" textLength="5.0" lengthAdjust="spacingAndGlyphs">60</text>
<text x="135.2" y="309.2" font-size="5.6" fill="#222" textLength="5.0" lengthAdjust="spacingAndGlyphs">80</text>
<text x="132.7" y="290.2" font-size="5.6" fill="#222" textLength="7.5" lengthAdjust="spacingAndGlyphs">100</text>
<line x1="142.0" y1="383.2" x2="144.2" y2="383.2" stroke="#555" stroke-width="0.9"/>
<line x1="142.0" y1="364.2" x2="144.2" y2="364.2" stroke="#555" stroke-width="0.9"/>
<line x1="142.0" y1="345.2" x2="144.2" y2="345.2" stroke="#555" stroke-width="0.9"/>
<line x1="142.0" y1="326.2" x2="144.2" y2="326.2" stroke="#555" stroke-width="0.9"/>
<line x1="142.0" y1="307.2" x2="144.2" y2="307.2" stroke="#555" stroke-width="0.9"/>
<line x1="142.0" y1="288.2" x2="144.2" y2="288.2" stroke="#555" stroke-width="0.9"/>
<path d="M144.2 378.4h-1.3M144.2 373.7h-1.3M144.2 368.9h-1.3M144.2 359.4h-1.3M144.2 354.7h-1.3M144.2 349.9h-1.3M144.2 340.4h-1.3M144.2 335.7h-1.3M144.2 330.9h-1.3M144.2 321.4h-1.3M144.2 316.7h-1.3M144.2 311.9h-1.3M144.2 302.4h-1.3M144.2 297.7h-1.3M144.2 292.9h-1.3" stroke="#555" stroke-width="0.9" fill="none"/>
<text x="155.2" y="393.0" font-size="5.4" fill="#333" text-anchor="middle">0</text>
<text x="162.6" y="393.0" font-size="5.4" fill="#333" textLength="4.1" lengthAdjust="spacingAndGlyphs">10</text><text x="166.9" y="390.9" font-size="3.2" fill="#333">2</text>
<text x="187.1" y="393.0" font-size="5.4" fill="#333" textLength="4.1" lengthAdjust="spacingAndGlyphs">10</text><text x="191.4" y="390.9" font-size="3.2" fill="#333">3</text>
<text x="209.6" y="393.0" font-size="5.4" fill="#333" textLength="4.1" lengthAdjust="spacingAndGlyphs">10</text><text x="213.9" y="390.9" font-size="3.2" fill="#333">4</text>
<text x="232.1" y="393.0" font-size="5.4" fill="#333" textLength="4.1" lengthAdjust="spacingAndGlyphs">10</text><text x="236.4" y="390.9" font-size="3.2" fill="#333">5</text>
<line x1="155.2" y1="383.2" x2="155.2" y2="385.0" stroke="#666" stroke-width="0.8"/>
<line x1="165.2" y1="383.2" x2="165.2" y2="385.0" stroke="#666" stroke-width="0.8"/>
<line x1="189.7" y1="383.2" x2="189.7" y2="385.0" stroke="#666" stroke-width="0.8"/>
<line x1="212.2" y1="383.2" x2="212.2" y2="385.0" stroke="#666" stroke-width="0.8"/>
<line x1="234.7" y1="383.2" x2="234.7" y2="385.0" stroke="#666" stroke-width="0.8"/>
<text x="286.8" y="13.1" font-size="12.01" font-weight="bold" fill="#000" textLength="10.0" lengthAdjust="spacingAndGlyphs" >B</text>
<text x="330.8" y="18.4" font-size="11.73" font-weight="normal" fill="#111" stroke="#111" stroke-width="0.3" textLength="58.4" lengthAdjust="spacingAndGlyphs" >CD4+CD25-</text>
<text x="436.9" y="18.7" font-size="11.73" font-weight="normal" fill="#111" stroke="#111" stroke-width="0.3" textLength="60.9" lengthAdjust="spacingAndGlyphs" >CD4+CD25+</text>
<path d="M342.9 40.1h0.9M374.2 33.8h0.9M363.2 57.4h0.9M317.5 68.8h0.9M315.6 62.9h0.9M318.7 35.3h0.9M352.5 94.6h0.9M323.8 46.0h0.9M371.9 104.3h0.9M367.1 59.9h0.9M405.2 31.7h0.9M394.0 51.3h0.9M325.8 37.5h0.9M341.5 93.7h0.9M329.3 74.8h0.9M373.0 58.0h0.9M364.3 33.1h0.9M317.7 44.6h0.9M377.0 62.4h0.9M342.0 75.1h0.9M355.3 52.1h0.9M387.9 84.3h0.9M335.3 74.2h0.9M362.2 98.4h0.9M381.7 51.2h0.9M405.6 37.5h0.9M351.9 88.9h0.9M326.5 67.4h0.9M315.7 81.8h0.9M385.0 74.1h0.9" stroke="#bbb" stroke-width="0.9" opacity="0.9" fill="none"/>
<path d="M395.6 78.0h0.9M378.4 90.4h0.9M367.4 84.3h0.9M392.2 106.0h0.9M357.3 93.6h0.9M317.8 95.2h0.9M373.8 108.2h0.9M390.5 76.7h0.9M348.8 93.8h0.9M314.2 84.5h0.9M328.0 69.2h0.9M317.6 98.2h0.9M324.4 75.0h0.9M349.3 102.8h0.9M319.7 84.0h0.9M364.5 103.3h0.9M390.2 102.4h0.9M338.6 82.5h0.9M346.3 103.3h0.9M403.5 70.7h0.9M328.8 74.3h0.9M334.3 85.6h0.9M368.3 75.7h0.9M312.4 82.6h0.9M347.3 89.2h0.9M403.0 94.7h0.9M361.2 91.5h0.9M376.6 66.4h0.9M397.9 98.7h0.9M395.5 99.5h0.9M349.5 81.8h0.9M321.9 92.2h0.9M317.9 67.0h0.9M331.9 71.2h0.9M344.5 66.3h0.9M312.0 70.7h0.9M321.7 80.2h0.9M314.4 102.9h0.9M370.6 70.6h0.9M336.1 79.5h0.9M346.8 69.5h0.9M393.1 108.2h0.9M356.5 85.5h0.9M320.2 68.5h0.9M344.7 75.8h0.9M391.2 71.2h0.9M314.2 106.3h0.9M362.4 70.5h0.9M363.9 65.2h0.9M362.4 107.5h0.9M394.4 95.0h0.9M336.9 80.3h0.9M328.0 98.4h0.9M362.9 98.7h0.9M343.5 73.9h0.9M389.5 107.8h0.9M393.4 99.9h0.9M390.2 96.9h0.9M333.7 87.0h0.9M346.0 65.3h0.9M314.7 76.4h0.9M336.8 94.8h0.9M403.3 83.9h0.9M401.5 108.0h0.9M403.2 80.2h0.9M333.1 74.1h0.9M330.8 73.1h0.9M371.6 104.1h0.9M392.3 85.3h0.9M374.4 99.6h0.9M320.1 93.4h0.9M398.9 98.8h0.9M383.6 85.3h0.9M329.0 99.1h0.9M343.8 99.6h0.9M404.8 81.6h0.9M350.3 106.1h0.9M381.2 71.6h0.9M324.1 70.7h0.9M398.4 99.9h0.9M326.0 100.8h0.9M405.6 93.2h0.9M345.5 88.4h0.9M324.5 64.6h0.9M404.7 92.9h0.9M362.3 105.5h0.9M353.4 102.8h0.9M390.9 73.4h0.9M336.1 77.0h0.9M335.0 90.1h0.9" stroke="#bbb" stroke-width="0.9" opacity="0.9" fill="none"/>
<path d="M329.0 89.0h0.9M321.6 105.5h0.9M334.5 90.3h0.9M347.8 105.3h0.9M338.4 105.7h0.9M343.1 92.8h0.9M344.4 75.6h0.9M339.5 81.1h0.9M314.2 101.8h0.9M324.0 90.9h0.9M356.1 93.6h0.9M332.9 92.4h0.9M346.2 101.3h0.9M320.2 93.8h0.9M328.4 84.3h0.9M358.8 92.0h0.9M346.6 100.5h0.9M366.9 89.8h0.9M349.5 91.9h0.9M343.7 98.2h0.9M340.2 92.9h0.9M341.7 106.5h0.9M354.6 104.4h0.9M368.6 83.7h0.9M346.5 106.6h0.9M362.7 79.6h0.9M321.1 89.8h0.9M318.2 83.1h0.9M318.2 97.4h0.9M359.5 105.1h0.9M323.0 99.0h0.9M352.3 79.8h0.9M365.2 107.4h0.9M326.7 106.9h0.9M337.1 91.3h0.9M371.4 102.9h0.9M323.4 89.5h0.9M343.9 86.4h0.9M325.4 85.7h0.9M355.9 75.7h0.9" stroke="#aaa" stroke-width="0.9" opacity="0.9" fill="none"/>
<path d="M324.9 69.8h0.9M340.1 72.0h0.9M326.2 67.5h0.9M354.3 77.0h0.9M338.1 59.1h0.9M338.0 73.8h0.9M346.5 73.6h0.9M332.5 74.0h0.9M317.4 76.5h0.9M335.6 68.1h0.9M343.6 80.2h0.9M321.8 68.3h0.9M335.3 72.4h0.9M329.8 66.8h0.9M350.0 76.5h0.9M323.4 65.0h0.9M346.6 76.2h0.9M347.6 75.4h0.9M326.0 72.8h0.9M315.7 67.9h0.9M332.5 74.0h0.9M327.2 70.9h0.9M336.7 73.3h0.9M338.1 72.5h0.9M330.4 75.3h0.9M333.4 67.5h0.9M328.0 71.5h0.9M332.1 72.3h0.9M333.0 72.3h0.9M331.9 65.5h0.9M336.4 76.6h0.9M336.5 70.6h0.9M336.6 66.9h0.9M317.8 71.8h0.9M325.6 75.1h0.9M324.3 58.9h0.9M324.7 79.1h0.9M329.9 64.9h0.9M326.9 74.0h0.9M337.0 72.3h0.9M344.9 74.9h0.9M332.8 74.4h0.9M346.2 76.2h0.9M341.2 66.3h0.9M331.8 75.0h0.9M330.6 76.6h0.9M337.8 75.9h0.9M331.3 83.7h0.9M342.9 70.5h0.9M333.7 84.0h0.9M330.3 75.7h0.9M340.8 71.5h0.9M323.7 72.4h0.9M335.9 76.9h0.9M339.3 71.6h0.9M339.8 74.1h0.9M334.6 71.8h0.9M331.1 74.8h0.9M324.6 68.5h0.9M333.0 64.5h0.9M329.5 61.9h0.9M327.5 74.2h0.9M337.5 71.2h0.9M331.1 64.7h0.9M347.6 74.0h0.9M341.7 67.3h0.9M331.5 62.8h0.9M339.2 76.0h0.9M317.8 71.2h0.9M338.0 63.0h0.9M318.4 66.4h0.9M328.0 64.8h0.9M333.3 72.7h0.9M338.1 74.9h0.9M345.0 77.1h0.9M322.5 69.1h0.9M324.5 66.3h0.9M332.3 71.5h0.9M336.9 63.9h0.9M323.1 71.4h0.9M331.4 70.0h0.9M332.5 67.9h0.9M338.6 73.2h0.9M332.3 68.3h0.9M331.6 58.4h0.9M325.1 71.7h0.9M321.0 72.5h0.9M334.2 64.9h0.9M331.0 70.0h0.9M336.7 74.4h0.9M332.7 67.4h0.9M331.8 71.2h0.9M338.9 72.9h0.9M327.2 65.0h0.9M330.0 67.9h0.9M324.1 70.9h0.9M329.1 72.0h0.9M337.2 69.5h0.9M351.6 70.0h0.9M341.8 72.1h0.9M341.9 60.1h0.9M327.0 72.7h0.9M337.8 82.7h0.9M335.6 77.6h0.9M339.1 76.0h0.9M337.1 70.8h0.9M337.1 66.3h0.9M342.5 66.6h0.9M335.0 81.7h0.9M331.2 71.6h0.9M342.3 71.6h0.9M326.5 72.7h0.9M337.7 74.9h0.9M326.8 79.9h0.9M346.3 71.6h0.9M335.1 69.4h0.9M344.3 68.1h0.9M338.4 69.2h0.9M327.4 74.9h0.9M343.7 71.5h0.9M327.6 75.4h0.9M332.6 73.0h0.9M345.2 76.9h0.9M328.8 82.5h0.9M333.0 75.3h0.9M327.8 71.3h0.9M319.0 80.1h0.9M343.9 65.7h0.9M321.0 63.7h0.9M342.4 69.3h0.9M332.5 70.0h0.9M332.0 66.3h0.9M333.2 64.6h0.9M332.4 73.0h0.9M336.7 70.4h0.9M325.8 72.3h0.9M329.1 79.0h0.9M339.1 70.9h0.9M329.2 68.1h0.9M325.5 69.8h0.9M335.4 74.0h0.9M337.6 81.6h0.9M327.4 71.6h0.9M355.4 62.5h0.9M328.8 72.3h0.9M334.2 73.5h0.9M331.1 73.3h0.9M333.4 75.2h0.9M317.9 67.3h0.9M333.0 66.5h0.9M324.6 74.5h0.9M327.8 74.5h0.9M339.0 73.0h0.9M337.1 71.0h0.9M321.7 71.4h0.9M336.6 69.0h0.9M332.2 75.1h0.9M326.0 74.6h0.9M347.9 68.8h0.9M334.2 70.8h0.9M345.3 73.0h0.9M340.2 68.2h0.9M332.9 71.5h0.9M318.8 78.4h0.9M340.2 63.1h0.9M339.0 70.9h0.9M336.6 73.3h0.9M321.0 70.5h0.9M344.9 68.7h0.9M324.8 65.0h0.9M323.2 73.1h0.9M346.5 73.6h0.9M335.0 82.2h0.9M328.8 68.3h0.9M337.2 74.1h0.9M324.9 65.9h0.9M335.3 72.7h0.9M322.5 70.5h0.9M328.7 73.7h0.9M332.1 71.1h0.9M330.2 76.6h0.9M344.1 69.7h0.9M339.8 67.9h0.9M333.6 75.1h0.9M345.1 69.7h0.9M332.4 72.4h0.9M321.0 71.6h0.9M327.6 73.3h0.9M324.0 62.0h0.9M333.3 72.8h0.9M328.6 75.8h0.9M330.8 68.6h0.9M336.8 64.0h0.9M327.6 71.4h0.9M339.8 70.7h0.9M335.5 68.4h0.9M335.4 79.5h0.9M327.5 82.9h0.9M327.8 71.6h0.9M334.4 76.4h0.9M323.1 61.4h0.9M337.8 75.3h0.9M338.0 84.1h0.9M334.6 72.7h0.9M340.4 73.3h0.9M346.3 65.6h0.9M330.0 55.0h0.9M339.5 69.7h0.9M340.4 81.8h0.9M333.0 70.3h0.9M329.0 67.5h0.9M328.0 74.6h0.9M333.3 71.8h0.9M331.6 75.9h0.9M337.0 70.8h0.9M338.3 70.8h0.9M323.8 78.5h0.9M336.7 66.9h0.9M341.6 73.2h0.9M320.5 79.2h0.9M335.7 75.8h0.9M334.6 70.8h0.9M320.6 76.2h0.9M333.2 70.1h0.9M335.8 71.9h0.9M338.4 69.7h0.9M332.7 61.2h0.9M329.6 74.7h0.9M343.7 69.8h0.9M332.0 79.1h0.9M330.4 75.0h0.9M346.4 71.7h0.9M342.8 68.1h0.9M334.7 71.1h0.9M333.9 76.9h0.9M352.1 68.3h0.9M328.4 73.9h0.9M324.6 73.9h0.9M337.6 70.2h0.9M337.2 64.1h0.9M339.1 64.1h0.9M327.4 68.8h0.9M329.8 75.6h0.9M333.7 69.6h0.9M337.3 79.1h0.9M333.0 73.3h0.9M342.9 72.8h0.9M322.7 83.5h0.9M350.7 62.0h0.9M332.7 73.5h0.9M340.7 74.7h0.9M330.8 66.4h0.9M333.8 76.5h0.9M324.3 66.6h0.9M332.8 62.2h0.9M330.9 69.4h0.9M336.6 68.1h0.9M325.9 69.6h0.9M332.6 68.3h0.9M333.1 75.1h0.9M342.5 79.7h0.9M326.7 69.5h0.9M313.1 80.6h0.9M327.2 71.3h0.9M337.2 65.0h0.9M336.7 71.4h0.9M318.4 72.9h0.9M342.6 62.5h0.9M339.5 72.5h0.9M336.8 73.6h0.9M343.4 70.4h0.9M340.0 69.5h0.9M338.8 67.6h0.9M332.1 79.8h0.9M336.6 70.7h0.9M323.8 67.7h0.9M334.5 76.0h0.9M336.4 74.0h0.9M332.7 78.0h0.9M329.9 68.9h0.9M340.1 71.8h0.9M330.8 68.7h0.9M330.9 74.5h0.9M335.8 65.7h0.9M336.4 72.4h0.9M325.0 75.2h0.9M330.8 69.9h0.9M339.4 77.8h0.9M327.5 73.6h0.9M326.0 82.6h0.9M329.0 77.2h0.9M327.8 75.4h0.9M350.8 59.3h0.9M329.5 73.9h0.9M332.3 68.3h0.9M350.2 71.9h0.9M319.8 75.6h0.9M319.2 77.0h0.9M328.4 72.2h0.9M343.1 72.1h0.9" stroke="#999" stroke-width="0.9" opacity="0.9" fill="none"/>
<path d="M327.7 65.8h0.9M339.3 72.6h0.9M330.3 72.9h0.9M336.2 72.3h0.9M323.8 69.7h0.9M338.1 72.6h0.9M338.0 63.6h0.9M334.8 71.9h0.9M345.5 67.8h0.9M332.5 70.6h0.9M338.0 69.3h0.9M339.2 68.3h0.9M335.2 69.0h0.9M334.7 68.6h0.9M326.8 73.6h0.9M335.4 68.9h0.9M334.9 73.3h0.9M329.6 70.2h0.9M336.4 72.0h0.9M332.5 64.6h0.9M339.6 71.4h0.9M334.1 69.7h0.9M335.2 69.3h0.9M329.4 68.4h0.9M331.3 68.8h0.9M328.8 72.3h0.9M328.1 72.3h0.9M329.4 71.5h0.9M340.2 71.1h0.9M330.7 70.6h0.9M334.7 65.6h0.9M331.3 71.0h0.9M331.9 70.7h0.9M337.3 72.6h0.9M338.1 72.1h0.9M332.7 70.4h0.9M332.8 69.6h0.9M333.2 65.7h0.9M332.5 70.4h0.9M329.6 70.4h0.9M336.3 70.0h0.9M343.3 63.2h0.9M333.1 65.4h0.9M338.4 77.9h0.9M322.7 70.9h0.9M336.3 69.7h0.9M336.5 64.2h0.9M337.8 71.5h0.9M334.1 68.9h0.9M336.9 69.1h0.9M335.0 69.1h0.9M323.9 70.4h0.9M334.9 72.6h0.9M330.1 70.4h0.9M336.8 70.9h0.9M339.6 76.1h0.9M329.9 65.1h0.9M337.9 74.8h0.9M338.2 72.8h0.9M331.2 68.5h0.9M338.0 67.9h0.9M325.8 67.7h0.9M345.2 75.9h0.9M330.9 68.5h0.9M335.0 68.4h0.9M339.9 70.3h0.9M329.1 74.2h0.9M331.4 71.1h0.9M333.9 69.6h0.9M335.5 68.6h0.9M325.7 64.3h0.9M328.3 68.4h0.9M333.9 70.7h0.9M336.5 70.8h0.9M330.4 68.5h0.9M324.5 70.0h0.9M336.2 72.0h0.9M333.5 70.0h0.9M338.2 70.5h0.9M337.3 72.1h0.9M335.0 74.2h0.9M331.4 69.5h0.9M330.4 68.3h0.9M341.0 75.4h0.9M334.1 72.1h0.9M339.3 72.8h0.9M339.4 67.0h0.9M331.1 71.8h0.9M340.5 70.8h0.9M330.1 69.5h0.9M331.0 68.1h0.9M340.8 68.7h0.9M334.1 76.6h0.9M339.3 71.4h0.9M331.2 71.6h0.9M341.3 72.2h0.9M339.7 70.8h0.9M336.3 69.9h0.9M335.9 74.1h0.9M327.6 70.3h0.9M335.1 68.9h0.9M332.6 72.7h0.9M343.0 72.3h0.9M335.5 66.2h0.9M342.7 70.7h0.9M333.8 67.4h0.9M333.7 67.4h0.9M334.3 71.8h0.9M334.1 71.3h0.9M330.2 74.5h0.9" stroke="#777" stroke-width="0.9" opacity="0.9" fill="none"/>
<path d="M319.1 65.3h0.9M321.9 72.7h0.9M316.9 75.5h0.9M324.7 69.7h0.9M322.2 88.0h0.9M327.1 76.9h0.9M323.8 77.2h0.9M322.7 83.1h0.9M322.4 61.2h0.9M322.9 71.8h0.9M326.9 73.7h0.9M323.9 93.2h0.9M316.7 70.1h0.9M314.5 61.2h0.9M319.2 64.9h0.9M314.1 82.3h0.9M318.3 75.4h0.9M325.0 87.5h0.9M334.6 85.2h0.9M323.9 79.3h0.9M333.8 88.0h0.9M321.1 81.2h0.9M324.7 78.4h0.9M320.0 68.7h0.9M319.8 67.2h0.9M330.3 81.8h0.9M315.8 87.8h0.9M328.4 64.6h0.9M334.0 83.7h0.9M335.4 69.4h0.9M326.2 81.0h0.9M324.2 79.2h0.9M329.3 67.5h0.9M315.5 68.2h0.9M319.7 73.8h0.9M325.2 79.9h0.9M323.2 73.3h0.9M320.3 84.7h0.9M327.6 78.7h0.9M321.1 88.9h0.9M319.4 82.5h0.9M329.9 76.1h0.9M328.0 70.2h0.9M329.1 79.4h0.9M313.5 82.7h0.9M317.6 87.0h0.9M318.9 76.8h0.9M324.7 75.7h0.9M324.6 74.1h0.9M327.0 78.0h0.9M324.3 58.7h0.9M330.0 78.2h0.9M312.3 78.7h0.9M325.8 85.5h0.9M316.5 88.8h0.9M322.0 94.8h0.9M322.1 82.8h0.9M320.8 70.2h0.9M329.6 84.3h0.9M332.2 84.0h0.9M319.6 66.4h0.9M319.1 73.3h0.9M318.1 82.1h0.9M325.0 76.1h0.9M324.0 77.0h0.9M324.3 83.3h0.9M328.8 73.2h0.9M314.0 88.0h0.9M323.7 85.7h0.9M313.1 75.7h0.9M323.2 67.9h0.9M319.9 83.1h0.9M329.5 89.2h0.9M317.8 68.2h0.9M326.1 84.6h0.9M324.2 68.9h0.9M327.7 83.5h0.9M326.3 74.6h0.9M324.8 83.5h0.9M319.6 65.1h0.9M325.0 81.4h0.9M323.1 84.2h0.9M319.5 77.4h0.9M321.2 82.0h0.9M332.6 76.2h0.9M335.3 88.7h0.9M327.7 82.1h0.9M333.6 76.7h0.9M322.3 70.6h0.9M325.8 87.4h0.9" stroke="#bbb" stroke-width="0.9" opacity="0.9" fill="none"/>
<path d="M365.8 73.3h0.9M363.3 71.9h0.9M359.2 76.8h0.9M362.6 64.9h0.9M361.4 66.5h0.9M366.9 76.8h0.9M359.4 76.1h0.9M367.0 67.8h0.9M358.9 66.9h0.9M361.8 72.9h0.9M362.8 59.8h0.9M364.8 62.6h0.9M367.1 64.4h0.9M361.6 66.3h0.9M362.2 78.1h0.9M366.9 74.3h0.9M365.1 62.5h0.9M362.2 68.0h0.9M360.7 73.8h0.9M361.5 67.1h0.9M360.4 59.7h0.9M366.0 78.3h0.9M364.6 65.6h0.9M354.8 72.0h0.9M368.1 72.6h0.9M367.2 79.1h0.9M367.8 68.6h0.9M367.6 75.3h0.9M358.8 68.8h0.9M359.2 70.4h0.9M366.0 65.1h0.9M357.0 78.1h0.9M365.3 79.1h0.9M359.5 76.8h0.9M371.1 82.0h0.9M363.3 72.5h0.9M363.5 76.5h0.9M367.5 71.5h0.9M359.4 75.1h0.9M362.4 74.5h0.9M364.9 79.9h0.9M367.9 68.5h0.9M365.2 80.7h0.9M362.2 73.4h0.9M368.0 77.9h0.9M365.8 63.7h0.9M359.7 72.4h0.9M365.3 85.0h0.9M361.1 77.3h0.9M366.6 61.8h0.9M361.2 71.9h0.9M362.3 70.2h0.9M365.6 66.5h0.9M365.6 67.5h0.9M362.1 74.0h0.9M362.1 72.6h0.9M369.4 71.1h0.9M363.5 75.0h0.9M362.8 77.0h0.9M359.6 74.4h0.9M362.3 66.6h0.9M370.0 66.3h0.9M370.0 74.6h0.9M368.9 65.6h0.9M368.1 79.0h0.9M363.6 70.3h0.9M372.4 72.0h0.9M362.6 67.5h0.9M365.5 72.8h0.9M364.6 80.5h0.9M362.9 73.6h0.9M369.0 65.5h0.9M367.5 81.1h0.9M359.4 65.0h0.9M360.5 60.8h0.9M365.5 60.8h0.9M365.7 79.0h0.9M358.5 69.3h0.9M357.5 75.3h0.9M361.5 69.5h0.9M364.2 74.0h0.9M362.8 71.1h0.9M362.1 71.6h0.9M360.0 71.3h0.9M357.4 68.3h0.9M370.5 71.4h0.9M359.7 72.4h0.9M360.7 61.9h0.9M361.5 75.1h0.9M365.3 70.5h0.9M360.8 65.1h0.9M368.6 72.3h0.9M360.8 59.4h0.9M359.3 84.6h0.9M360.1 70.6h0.9M364.7 70.1h0.9M363.1 63.4h0.9M360.4 80.3h0.9M361.4 75.7h0.9M358.2 69.5h0.9M364.9 76.7h0.9M360.2 74.3h0.9M365.3 66.9h0.9M365.6 66.1h0.9M361.3 70.9h0.9M354.8 70.4h0.9M360.6 63.0h0.9M362.6 75.2h0.9M362.6 78.0h0.9M360.1 63.8h0.9M369.3 73.2h0.9M367.2 66.5h0.9M366.7 72.4h0.9M366.2 71.1h0.9M368.1 67.4h0.9M360.7 62.9h0.9M367.9 66.9h0.9M360.5 65.8h0.9M362.5 64.0h0.9M363.0 67.6h0.9M362.1 65.7h0.9M364.1 68.5h0.9M364.4 72.4h0.9M365.2 59.0h0.9M362.2 66.6h0.9M366.6 62.3h0.9M361.6 69.4h0.9M362.9 76.5h0.9M362.5 76.3h0.9M359.0 61.0h0.9M368.1 73.4h0.9M365.7 71.7h0.9M365.6 64.3h0.9M367.2 68.1h0.9M367.4 71.5h0.9M357.3 63.9h0.9M367.8 70.2h0.9M362.7 72.3h0.9M362.6 68.0h0.9M364.3 71.8h0.9M369.2 71.3h0.9M370.4 80.9h0.9M369.8 76.8h0.9M364.4 71.8h0.9M363.5 67.0h0.9M363.8 67.5h0.9M369.6 73.9h0.9M362.5 60.5h0.9M363.8 68.7h0.9M360.3 64.7h0.9M356.3 74.1h0.9M363.8 85.2h0.9M363.9 70.2h0.9M368.9 71.7h0.9M364.6 69.0h0.9M361.9 79.2h0.9M367.4 80.4h0.9M362.8 71.2h0.9M361.0 76.3h0.9M359.3 74.1h0.9M367.7 78.8h0.9M360.8 77.0h0.9M361.6 66.8h0.9M359.5 77.4h0.9M369.6 67.7h0.9M361.4 69.1h0.9M372.5 76.5h0.9M362.2 61.1h0.9M361.7 77.5h0.9M370.4 69.5h0.9M361.6 68.2h0.9M357.6 76.0h0.9M360.3 76.8h0.9M358.2 64.0h0.9M365.0 66.8h0.9M366.7 71.0h0.9M360.0 74.4h0.9M366.9 60.5h0.9M370.2 73.7h0.9M366.6 60.8h0.9M361.6 69.1h0.9M367.7 63.0h0.9M361.0 59.8h0.9M363.2 72.9h0.9M358.3 67.7h0.9M365.7 79.7h0.9M366.3 69.3h0.9M360.0 65.8h0.9M361.7 71.8h0.9M363.8 80.2h0.9M365.0 65.1h0.9M369.3 76.2h0.9M364.3 67.0h0.9M357.6 65.4h0.9M367.1 66.6h0.9M359.5 72.1h0.9M364.8 74.3h0.9M366.2 78.7h0.9M361.1 76.4h0.9M360.6 74.8h0.9M364.6 72.3h0.9M367.3 70.9h0.9M367.8 75.8h0.9M364.5 67.9h0.9M361.4 68.1h0.9M363.3 70.9h0.9M374.1 74.5h0.9M366.6 66.3h0.9M361.6 69.2h0.9M364.7 65.3h0.9M369.5 67.9h0.9M367.7 58.2h0.9M364.0 72.5h0.9M364.7 74.3h0.9M365.0 71.9h0.9M357.6 67.1h0.9M356.0 74.5h0.9M365.0 69.9h0.9M361.2 67.8h0.9M370.3 80.5h0.9M363.8 78.1h0.9M358.6 60.4h0.9M362.4 66.2h0.9M362.1 72.0h0.9M374.3 67.4h0.9M364.2 72.5h0.9M363.9 76.1h0.9M370.0 64.2h0.9M364.5 69.5h0.9M365.2 62.6h0.9M358.0 58.3h0.9M365.8 72.1h0.9M364.3 58.0h0.9M362.7 66.8h0.9M359.2 66.0h0.9M366.4 74.0h0.9M363.9 73.8h0.9M361.9 71.4h0.9M364.1 74.0h0.9M363.8 70.2h0.9M363.5 67.5h0.9M371.6 73.8h0.9M365.5 83.6h0.9M368.8 62.4h0.9M366.4 75.6h0.9M370.4 78.2h0.9M366.6 64.5h0.9M361.0 72.5h0.9M365.7 65.4h0.9M362.7 68.8h0.9M364.2 72.8h0.9M363.0 64.2h0.9M368.2 79.8h0.9M363.6 76.6h0.9M365.5 74.6h0.9M365.6 66.8h0.9M366.0 76.6h0.9M361.0 81.8h0.9M371.1 81.0h0.9M370.8 75.1h0.9M362.8 67.7h0.9M361.2 71.6h0.9M363.9 74.7h0.9M357.1 83.7h0.9M371.7 70.8h0.9M366.3 73.6h0.9M364.9 69.9h0.9M363.6 66.5h0.9M364.6 70.9h0.9M365.1 66.3h0.9M364.1 71.3h0.9M366.1 65.2h0.9M365.4 76.4h0.9M366.0 69.0h0.9M362.3 69.7h0.9M366.5 79.5h0.9M363.5 67.5h0.9M365.3 72.1h0.9M360.9 66.9h0.9M363.7 74.7h0.9M359.9 65.4h0.9M365.7 64.3h0.9M364.4 72.9h0.9M363.6 65.4h0.9M363.8 69.2h0.9M365.1 66.4h0.9M367.7 61.8h0.9M363.4 71.0h0.9M367.3 67.7h0.9M365.9 67.9h0.9M366.5 80.6h0.9M362.6 73.4h0.9M360.8 76.4h0.9M368.1 71.2h0.9M360.1 73.2h0.9M367.9 77.0h0.9M366.8 60.9h0.9M361.7 78.8h0.9M359.8 77.2h0.9M370.4 75.2h0.9" stroke="#555" stroke-width="0.9" opacity="0.9" fill="none"/>
<path d="M368.3 66.5h0.9M362.4 67.2h0.9M365.0 67.4h0.9M367.2 67.1h0.9M366.0 68.8h0.9M365.5 73.0h0.9M366.6 67.8h0.9M365.0 65.6h0.9M368.9 68.0h0.9M362.8 65.8h0.9M365.2 66.2h0.9M368.2 64.0h0.9M366.7 67.9h0.9M362.6 67.6h0.9M365.3 69.0h0.9M364.4 68.4h0.9M361.3 64.2h0.9M367.5 70.6h0.9M365.5 65.7h0.9M368.2 61.2h0.9M363.5 69.5h0.9M367.1 64.4h0.9M360.8 71.9h0.9M365.9 64.8h0.9M365.6 70.2h0.9M359.0 70.8h0.9M367.4 61.3h0.9M367.4 62.2h0.9M368.3 68.7h0.9M371.1 65.7h0.9M365.5 70.6h0.9M363.9 65.4h0.9M364.6 67.3h0.9M362.8 69.0h0.9M366.9 67.7h0.9M369.8 66.5h0.9M368.8 65.9h0.9M367.4 61.7h0.9M366.0 67.0h0.9M364.3 65.7h0.9M364.6 65.3h0.9M360.0 65.7h0.9M364.1 65.9h0.9M362.9 67.1h0.9M367.5 66.7h0.9M364.3 71.6h0.9M367.9 70.3h0.9M368.4 66.5h0.9M365.2 70.8h0.9M364.1 67.1h0.9M366.4 68.6h0.9M364.8 70.5h0.9M365.1 69.7h0.9M368.2 69.5h0.9M367.3 64.0h0.9M362.2 65.6h0.9M366.7 72.0h0.9M362.4 68.4h0.9M363.4 65.3h0.9M364.8 69.6h0.9M366.0 71.0h0.9M363.0 70.2h0.9M367.8 67.7h0.9M366.7 65.8h0.9M362.8 66.3h0.9M363.9 76.2h0.9M364.3 72.5h0.9M366.0 68.4h0.9M367.4 65.2h0.9M367.8 68.6h0.9M361.7 69.3h0.9M366.9 68.9h0.9M369.5 66.3h0.9M366.8 69.7h0.9M363.2 71.1h0.9M361.9 63.6h0.9M366.8 64.2h0.9M365.2 62.6h0.9M365.7 64.1h0.9M366.4 62.9h0.9M366.6 66.7h0.9M365.7 67.3h0.9M365.8 63.5h0.9M359.1 67.6h0.9M363.2 66.1h0.9M366.6 61.5h0.9M363.6 65.7h0.9M362.9 68.5h0.9M365.1 65.0h0.9M363.0 69.9h0.9M363.9 69.3h0.9M366.6 61.8h0.9M362.8 67.5h0.9M366.4 69.8h0.9M367.5 70.6h0.9M364.6 66.9h0.9M367.4 66.2h0.9M368.1 62.7h0.9M367.1 67.0h0.9M360.6 70.4h0.9M366.3 67.6h0.9M362.8 66.1h0.9M369.3 65.0h0.9M356.8 64.9h0.9M362.5 67.1h0.9M364.5 64.8h0.9M363.4 70.6h0.9M361.9 73.4h0.9M364.1 64.2h0.9M367.5 69.2h0.9M362.9 69.7h0.9M360.9 64.7h0.9M368.3 66.7h0.9M362.2 69.0h0.9M367.8 67.4h0.9M361.0 66.5h0.9M366.5 69.8h0.9M370.1 66.7h0.9M364.3 67.4h0.9M368.5 64.7h0.9M368.8 59.3h0.9M367.5 65.5h0.9M366.6 69.6h0.9M362.5 67.2h0.9M366.1 69.3h0.9M363.2 64.5h0.9M360.7 75.1h0.9M365.0 66.8h0.9M361.8 70.3h0.9M364.2 71.8h0.9M367.6 67.6h0.9M367.3 64.2h0.9M364.7 65.8h0.9M362.3 67.6h0.9M365.1 71.8h0.9M357.1 65.5h0.9M363.2 66.1h0.9M366.6 68.7h0.9M365.6 66.1h0.9M366.7 68.6h0.9M360.9 66.7h0.9M362.1 64.0h0.9M365.9 67.7h0.9M365.8 64.9h0.9M365.0 64.8h0.9M366.5 69.6h0.9M369.9 71.3h0.9M363.5 66.1h0.9M363.2 68.4h0.9M370.5 69.6h0.9M360.0 63.7h0.9M362.3 69.0h0.9M365.5 68.4h0.9M370.0 65.0h0.9M363.4 73.4h0.9M366.4 65.2h0.9M360.4 62.9h0.9M359.4 67.7h0.9M365.6 70.5h0.9M365.2 65.4h0.9M363.6 73.2h0.9M361.1 68.0h0.9M365.6 69.4h0.9M364.5 69.0h0.9M367.5 67.1h0.9M364.4 66.9h0.9M363.1 66.9h0.9M364.7 68.1h0.9M368.8 71.4h0.9M364.4 69.3h0.9M366.2 69.8h0.9M365.6 68.3h0.9M364.3 65.1h0.9M367.7 71.4h0.9M367.2 68.8h0.9M366.2 66.1h0.9M361.0 69.5h0.9M366.0 65.8h0.9M363.1 71.3h0.9M361.0 72.8h0.9M367.1 74.6h0.9M363.7 67.4h0.9M364.2 68.0h0.9M365.0 65.3h0.9M368.2 65.1h0.9M364.2 69.2h0.9M364.2 66.2h0.9M366.4 66.4h0.9M362.4 67.2h0.9M365.0 72.6h0.9M362.8 70.4h0.9M363.5 66.4h0.9M364.7 68.3h0.9M367.7 72.7h0.9M363.9 71.5h0.9M368.0 69.9h0.9M363.6 70.2h0.9M365.2 68.6h0.9M364.8 69.5h0.9M368.3 70.9h0.9M365.0 70.5h0.9M369.1 64.7h0.9M369.2 63.5h0.9M366.9 69.3h0.9M369.2 68.3h0.9M364.3 65.1h0.9M362.4 69.8h0.9M364.9 65.3h0.9M366.8 65.2h0.9M364.4 66.1h0.9M369.6 71.9h0.9M365.1 62.8h0.9M366.2 67.7h0.9M366.4 69.2h0.9M364.7 70.3h0.9M367.6 68.1h0.9M364.5 66.1h0.9M367.2 64.2h0.9M365.1 65.3h0.9M362.0 69.3h0.9M365.4 67.6h0.9M367.7 63.0h0.9M365.3 68.4h0.9M367.6 64.2h0.9M367.3 68.2h0.9M368.9 70.9h0.9M366.9 73.9h0.9M365.5 66.2h0.9M364.6 64.7h0.9M365.4 61.9h0.9M365.3 68.8h0.9M368.0 66.5h0.9M369.0 65.5h0.9M365.2 61.9h0.9M363.6 65.1h0.9M369.1 69.1h0.9M362.8 69.1h0.9M366.7 66.8h0.9M365.6 66.6h0.9M364.2 62.3h0.9M365.3 71.3h0.9M369.0 66.7h0.9M363.7 66.9h0.9M367.7 68.5h0.9M364.1 68.6h0.9M365.0 69.0h0.9M364.5 63.2h0.9M365.6 69.7h0.9M362.8 67.2h0.9M367.6 66.4h0.9M363.9 73.4h0.9M367.5 70.5h0.9M363.2 72.3h0.9M361.5 66.0h0.9M367.3 71.4h0.9M363.2 65.6h0.9M366.0 61.9h0.9M367.1 69.1h0.9M364.4 69.1h0.9M367.4 68.4h0.9M366.8 71.9h0.9M364.3 68.0h0.9M364.2 70.5h0.9M364.5 68.9h0.9M365.8 67.7h0.9M369.7 67.3h0.9M368.9 69.9h0.9M368.7 67.0h0.9M367.7 69.7h0.9M364.0 68.3h0.9M365.2 67.4h0.9M368.6 65.4h0.9M361.4 62.5h0.9M364.4 65.6h0.9M365.5 69.1h0.9M369.7 68.4h0.9M366.6 65.4h0.9M366.9 71.4h0.9M368.7 61.8h0.9M367.6 72.1h0.9M367.5 63.2h0.9M364.8 69.2h0.9M366.5 65.2h0.9M363.4 70.3h0.9M362.3 71.6h0.9M365.5 68.4h0.9M362.3 65.8h0.9M367.2 63.3h0.9M370.5 63.4h0.9M362.6 67.6h0.9M366.7 69.6h0.9M364.6 66.9h0.9M364.9 65.8h0.9M359.3 70.3h0.9M366.1 68.0h0.9M364.0 68.2h0.9M365.5 67.3h0.9M368.2 62.5h0.9M366.1 64.4h0.9M364.7 71.8h0.9M362.9 67.2h0.9M364.1 70.2h0.9M363.1 62.7h0.9M366.7 66.5h0.9M364.7 70.6h0.9M363.4 66.4h0.9M365.9 68.7h0.9M364.3 70.5h0.9M370.9 66.3h0.9M370.0 61.4h0.9M368.9 66.5h0.9M365.8 66.5h0.9M364.0 63.8h0.9M364.6 71.2h0.9M368.2 66.5h0.9M364.2 65.5h0.9M362.6 72.7h0.9M367.1 67.8h0.9M364.3 64.6h0.9M368.7 69.7h0.9M363.2 70.3h0.9M362.8 69.3h0.9M363.2 66.3h0.9M366.7 68.7h0.9M367.9 65.1h0.9M369.3 71.4h0.9M365.5 68.8h0.9M363.6 67.1h0.9M362.3 67.8h0.9M366.0 71.4h0.9M367.8 69.8h0.9M364.6 66.9h0.9M364.7 68.1h0.9M360.9 69.7h0.9M361.7 66.0h0.9M365.6 66.0h0.9M369.5 67.2h0.9M369.3 70.9h0.9M364.3 68.7h0.9M368.6 66.5h0.9M365.7 65.9h0.9M365.6 66.5h0.9M365.7 70.4h0.9M368.8 67.9h0.9M366.0 70.0h0.9M364.8 64.5h0.9M368.2 64.8h0.9M367.7 64.7h0.9M369.9 64.5h0.9M367.5 71.8h0.9M363.2 71.8h0.9M363.5 62.4h0.9M367.2 69.5h0.9M365.0 60.2h0.9M365.4 66.6h0.9M364.6 66.7h0.9M361.2 65.9h0.9M369.8 72.0h0.9M364.6 65.4h0.9M366.5 70.6h0.9M367.2 64.1h0.9M365.9 67.9h0.9M369.0 70.9h0.9M366.8 71.0h0.9M364.6 71.9h0.9M364.5 68.6h0.9M367.7 64.9h0.9M363.8 62.4h0.9M365.9 67.3h0.9M364.7 68.9h0.9M360.4 67.4h0.9M365.7 66.7h0.9M367.4 72.5h0.9M364.4 64.8h0.9M364.0 67.8h0.9M366.9 65.0h0.9M367.9 64.5h0.9M367.5 68.7h0.9M366.6 73.7h0.9M364.9 67.0h0.9" stroke="#111" stroke-width="0.9" opacity="1.0" fill="none"/>
<path d="M364.6 84.1h0.9M358.5 81.3h0.9M360.5 83.0h0.9M367.6 80.2h0.9M362.6 80.9h0.9M353.1 83.7h0.9M364.9 80.8h0.9M361.7 76.5h0.9M362.4 85.8h0.9M362.7 86.5h0.9M354.4 77.8h0.9M363.9 79.9h0.9M357.4 76.8h0.9M367.2 73.8h0.9M359.7 74.7h0.9M361.1 83.1h0.9M365.0 70.3h0.9M367.9 77.2h0.9M361.0 88.0h0.9M362.7 74.0h0.9M360.9 76.5h0.9M359.6 78.4h0.9M365.9 81.7h0.9M358.4 93.4h0.9M359.7 80.6h0.9M363.1 83.7h0.9M361.9 82.2h0.9M370.1 80.5h0.9M359.4 81.6h0.9M360.3 78.2h0.9M363.6 81.6h0.9M362.0 84.1h0.9M362.4 73.7h0.9M365.9 78.3h0.9M367.1 76.9h0.9M364.9 81.5h0.9M353.9 72.8h0.9M359.2 86.8h0.9M356.7 84.4h0.9M366.7 82.4h0.9M365.3 77.6h0.9M363.0 81.1h0.9M364.4 83.4h0.9M362.3 76.6h0.9M361.1 82.0h0.9M357.4 74.0h0.9M361.6 77.3h0.9M362.1 67.2h0.9M361.9 78.8h0.9M365.6 70.5h0.9M362.0 82.3h0.9M364.6 85.7h0.9M366.5 75.0h0.9M365.1 78.4h0.9M360.3 87.4h0.9M360.9 75.9h0.9M361.6 75.9h0.9M366.4 81.8h0.9M367.7 82.0h0.9M360.9 85.0h0.9M360.8 77.8h0.9M362.4 80.2h0.9M367.0 77.1h0.9M364.2 79.9h0.9M358.8 74.7h0.9M362.3 81.9h0.9M364.1 82.3h0.9M363.2 77.8h0.9M364.4 75.2h0.9M358.5 78.4h0.9M358.2 77.5h0.9M360.5 77.3h0.9M362.8 76.1h0.9M361.6 71.8h0.9M363.5 75.8h0.9M364.4 66.4h0.9M360.3 81.2h0.9M354.8 78.3h0.9M363.3 80.5h0.9M358.0 81.1h0.9M363.5 75.3h0.9M365.5 79.8h0.9M363.1 77.8h0.9M364.8 80.5h0.9M366.8 82.2h0.9M360.9 78.9h0.9M366.1 78.2h0.9M364.3 82.5h0.9M362.4 68.8h0.9M363.4 81.0h0.9M363.5 76.3h0.9M367.1 79.3h0.9M360.9 76.5h0.9M364.2 74.7h0.9M359.6 89.7h0.9M367.4 85.1h0.9M367.6 82.9h0.9M357.3 85.8h0.9M367.2 82.4h0.9M356.4 86.0h0.9M367.6 77.6h0.9M363.4 83.8h0.9M362.7 85.3h0.9M363.3 83.3h0.9M363.3 72.8h0.9M359.6 95.3h0.9M363.9 86.3h0.9M366.9 88.3h0.9M364.9 77.1h0.9M363.1 70.7h0.9" stroke="#888" stroke-width="0.9" opacity="0.9" fill="none"/>
<path d="M362.3 60.6h0.9M354.6 58.6h0.9M366.2 61.9h0.9M359.4 56.1h0.9M355.7 55.0h0.9M365.1 64.0h0.9M358.6 62.0h0.9M364.7 56.6h0.9M371.5 50.7h0.9M362.7 58.6h0.9M371.3 63.2h0.9M371.8 58.4h0.9M366.8 62.0h0.9M365.0 59.0h0.9M362.3 56.8h0.9M358.2 63.7h0.9M361.3 51.9h0.9M364.0 57.9h0.9M363.7 63.3h0.9M362.6 57.2h0.9M360.1 57.9h0.9M361.3 58.6h0.9M375.1 59.1h0.9M359.7 63.6h0.9M366.4 60.4h0.9M365.8 60.4h0.9M365.6 62.1h0.9M366.9 61.9h0.9M361.0 58.0h0.9M360.2 60.8h0.9M366.2 56.6h0.9M365.3 65.7h0.9M367.8 54.7h0.9M362.6 59.9h0.9M362.9 59.1h0.9M367.6 59.0h0.9M358.7 60.1h0.9M362.6 58.3h0.9M360.8 54.0h0.9M358.1 57.0h0.9M358.8 50.1h0.9M367.5 54.6h0.9M360.2 59.6h0.9M353.6 61.9h0.9M360.0 59.9h0.9M361.1 58.9h0.9M363.4 58.0h0.9M355.9 53.7h0.9M362.8 62.1h0.9M360.9 59.6h0.9M363.6 59.4h0.9M366.9 53.6h0.9M364.1 57.5h0.9M361.8 55.5h0.9M359.9 55.0h0.9M358.7 65.3h0.9M369.6 58.0h0.9M365.9 55.1h0.9M352.2 52.7h0.9M363.6 62.2h0.9M362.8 55.1h0.9M362.1 55.1h0.9M357.6 57.3h0.9M361.4 55.6h0.9M359.5 55.3h0.9M363.9 62.1h0.9M362.2 64.5h0.9M356.7 58.8h0.9M358.5 57.5h0.9M363.4 59.6h0.9" stroke="#999" stroke-width="0.9" opacity="0.9" fill="none"/>
<path d="M509.0 70.9h0.9M473.1 70.8h0.9M498.9 47.1h0.9M441.8 94.9h0.9M467.5 80.0h0.9M500.1 100.8h0.9M503.7 31.0h0.9M460.4 95.7h0.9M499.3 37.6h0.9M440.2 48.1h0.9M435.6 56.7h0.9M498.0 70.3h0.9M466.8 34.7h0.9M461.7 109.3h0.9M488.4 64.3h0.9M469.1 93.0h0.9M494.0 39.8h0.9M487.0 57.6h0.9M472.8 47.0h0.9M459.5 55.4h0.9M460.4 29.0h0.9M444.4 74.3h0.9M431.6 42.1h0.9M490.4 50.0h0.9M455.3 47.3h0.9M500.7 35.0h0.9M483.1 97.9h0.9M444.4 62.2h0.9M497.0 78.2h0.9M459.6 31.1h0.9M465.9 57.6h0.9M489.9 51.7h0.9M462.8 80.7h0.9M498.7 56.4h0.9M460.8 75.0h0.9M508.8 43.2h0.9M513.0 85.9h0.9M459.6 82.1h0.9M455.8 33.3h0.9M493.8 58.6h0.9" stroke="#bbb" stroke-width="0.9" opacity="0.9" fill="none"/>
<path d="M471.0 55.5h0.9M479.3 51.4h0.9M479.2 57.6h0.9M471.2 57.9h0.9M476.6 51.9h0.9M468.0 58.3h0.9M471.2 58.7h0.9M468.7 55.8h0.9M472.2 49.0h0.9M474.0 57.4h0.9M473.0 50.5h0.9M475.5 47.7h0.9M476.5 59.0h0.9M480.2 61.0h0.9M475.9 57.8h0.9M474.9 49.8h0.9M479.5 59.2h0.9M473.9 50.7h0.9M479.6 59.2h0.9M471.0 59.9h0.9M480.9 56.4h0.9M476.1 54.4h0.9M472.8 61.9h0.9M484.7 57.1h0.9M474.4 60.5h0.9M473.8 60.2h0.9M477.5 51.4h0.9M471.4 56.1h0.9M477.5 57.9h0.9M478.8 49.5h0.9M476.4 53.4h0.9M475.1 58.1h0.9M471.7 55.3h0.9M471.1 57.8h0.9M472.1 54.0h0.9M475.5 53.2h0.9M478.5 53.3h0.9M477.5 57.9h0.9M471.5 55.4h0.9M472.1 54.7h0.9M473.9 65.7h0.9M473.5 64.4h0.9M476.2 49.9h0.9M467.4 59.9h0.9M468.4 60.1h0.9M478.1 58.5h0.9M474.1 55.2h0.9M475.6 55.0h0.9M473.1 54.6h0.9M478.5 53.4h0.9M476.0 50.7h0.9M472.5 49.6h0.9M474.2 59.9h0.9M475.8 54.0h0.9M476.8 54.8h0.9M476.0 57.9h0.9M476.5 44.0h0.9M470.6 60.4h0.9M474.5 67.8h0.9M474.0 53.7h0.9M479.6 59.3h0.9M480.9 59.1h0.9M474.1 60.1h0.9M472.3 54.3h0.9M473.0 55.4h0.9M477.3 54.1h0.9M475.8 54.0h0.9M477.6 42.6h0.9M474.1 57.3h0.9M471.4 61.6h0.9M475.5 62.9h0.9M477.9 59.7h0.9M474.3 51.0h0.9M474.1 54.2h0.9M475.6 54.2h0.9M484.5 48.5h0.9M478.5 54.1h0.9M474.0 61.2h0.9M474.8 50.4h0.9M476.1 55.5h0.9M468.2 57.5h0.9M471.4 52.8h0.9M476.3 58.0h0.9M473.9 67.4h0.9M476.1 53.4h0.9M475.6 55.9h0.9M467.8 48.6h0.9M470.4 66.9h0.9M474.2 55.1h0.9M473.0 61.4h0.9M474.9 65.1h0.9M477.3 64.8h0.9M474.4 58.4h0.9M473.4 55.7h0.9M469.3 53.6h0.9M471.8 53.2h0.9M478.7 57.8h0.9M478.7 60.8h0.9M477.7 61.5h0.9M472.9 60.5h0.9M473.8 53.8h0.9M478.6 67.3h0.9M471.7 65.2h0.9M477.4 52.3h0.9M475.7 58.4h0.9M476.0 54.7h0.9M470.7 56.7h0.9M477.5 60.4h0.9M476.9 62.0h0.9M471.6 56.3h0.9M475.9 61.5h0.9M475.3 59.1h0.9M475.2 67.0h0.9M467.9 56.4h0.9M482.7 57.7h0.9M469.0 57.2h0.9M470.2 53.1h0.9M475.5 65.1h0.9M476.3 59.8h0.9M478.0 57.5h0.9M472.1 56.0h0.9M475.9 55.1h0.9M472.7 54.7h0.9M470.0 51.4h0.9M474.5 54.7h0.9M474.9 63.5h0.9M475.8 56.3h0.9M471.1 51.1h0.9M476.0 52.1h0.9M476.2 51.1h0.9M475.2 56.1h0.9M478.0 54.5h0.9M473.6 57.7h0.9M475.0 65.0h0.9M474.0 53.8h0.9M473.8 58.9h0.9M475.5 60.0h0.9M470.4 68.9h0.9M480.6 56.3h0.9M471.0 57.3h0.9M476.1 45.3h0.9M474.8 49.1h0.9M476.3 63.4h0.9M478.1 49.0h0.9M479.2 61.0h0.9M473.7 59.0h0.9M479.6 54.8h0.9M474.8 53.7h0.9M478.5 45.7h0.9M479.3 51.7h0.9M477.7 48.4h0.9M471.8 53.5h0.9M477.4 48.4h0.9M476.7 53.3h0.9M478.7 54.9h0.9M476.3 55.6h0.9M480.5 54.7h0.9M474.7 66.4h0.9M475.0 59.9h0.9M472.5 57.5h0.9M467.6 57.0h0.9M472.7 49.0h0.9M470.3 62.2h0.9M476.2 48.9h0.9M480.6 53.0h0.9M473.6 57.7h0.9M471.2 48.4h0.9M472.4 62.4h0.9M477.8 48.6h0.9M478.6 56.7h0.9M476.4 56.8h0.9M476.1 51.5h0.9M471.9 53.0h0.9M473.6 59.6h0.9M470.9 64.5h0.9M472.8 53.6h0.9M477.0 58.7h0.9M473.7 51.1h0.9M471.6 48.5h0.9M478.4 61.9h0.9M480.7 59.0h0.9M475.9 60.3h0.9M477.8 55.2h0.9M475.9 67.3h0.9M469.4 49.5h0.9M471.7 60.3h0.9M478.6 54.8h0.9M476.9 56.3h0.9M475.8 53.8h0.9M474.7 56.5h0.9M478.4 67.7h0.9M469.0 59.2h0.9M474.8 61.3h0.9M478.2 60.4h0.9M477.4 51.7h0.9M469.4 64.9h0.9M478.6 51.7h0.9M478.9 59.8h0.9M467.0 61.0h0.9M471.7 62.3h0.9" stroke="#666" stroke-width="0.9" opacity="0.9" fill="none"/>
<path d="M473.4 53.4h0.9M471.7 54.9h0.9M476.9 53.6h0.9M471.0 61.7h0.9M478.5 57.5h0.9M473.7 52.0h0.9M471.5 57.1h0.9M477.4 52.4h0.9M474.8 54.7h0.9M474.3 57.0h0.9M479.0 53.7h0.9M476.5 58.6h0.9M474.2 55.1h0.9M472.1 58.6h0.9M473.7 53.6h0.9M474.9 53.0h0.9M472.7 54.6h0.9M477.8 54.9h0.9M475.9 51.3h0.9M470.9 60.8h0.9M474.0 51.0h0.9M474.6 57.3h0.9M471.3 52.9h0.9M475.3 52.8h0.9M476.4 58.3h0.9M475.7 54.3h0.9M474.7 53.7h0.9M474.5 56.4h0.9M474.2 58.3h0.9M480.1 53.9h0.9M475.5 57.9h0.9M476.1 54.8h0.9M473.8 58.4h0.9M476.1 57.0h0.9M473.2 57.3h0.9M476.4 55.0h0.9M476.1 61.8h0.9M471.0 57.3h0.9M472.4 51.5h0.9M474.3 57.1h0.9M474.9 52.1h0.9M471.9 53.9h0.9M474.8 53.1h0.9M471.7 60.6h0.9M473.1 55.0h0.9M473.7 53.8h0.9M474.9 54.6h0.9M476.1 52.1h0.9M471.8 61.2h0.9M474.6 57.7h0.9M477.2 57.1h0.9M474.9 51.0h0.9M471.5 58.3h0.9M476.2 57.2h0.9M471.4 49.3h0.9M472.7 52.1h0.9M475.1 52.5h0.9M478.0 53.7h0.9M473.7 58.0h0.9M475.5 52.9h0.9M476.5 61.1h0.9M472.3 54.8h0.9M472.6 49.9h0.9M476.1 57.5h0.9M476.8 56.7h0.9M470.7 55.4h0.9M473.4 52.1h0.9M472.5 57.7h0.9M474.2 61.2h0.9M475.8 49.9h0.9M476.6 59.1h0.9M474.9 52.0h0.9M478.4 51.7h0.9M474.6 49.9h0.9M472.2 50.5h0.9M477.0 58.9h0.9M474.0 51.5h0.9M474.7 56.6h0.9M471.7 52.1h0.9M474.6 57.6h0.9M475.0 56.8h0.9M472.2 48.2h0.9M475.4 52.8h0.9M474.5 54.4h0.9M475.8 53.2h0.9" stroke="#333" stroke-width="0.9" opacity="0.9" fill="none"/>
<path d="M477.0 67.1h0.9M474.8 69.5h0.9M476.0 68.6h0.9M469.2 64.5h0.9M478.0 68.8h0.9M474.9 68.8h0.9M471.9 64.4h0.9M471.9 71.5h0.9M474.4 74.0h0.9M474.7 74.4h0.9M474.6 62.4h0.9M477.8 68.3h0.9M476.4 67.8h0.9M472.7 67.7h0.9M470.8 62.3h0.9M471.3 64.9h0.9M470.2 66.6h0.9M474.2 75.0h0.9M478.0 66.8h0.9M475.7 66.1h0.9M474.5 66.9h0.9M472.2 67.3h0.9M469.9 68.7h0.9M472.8 62.7h0.9M472.6 69.2h0.9M471.8 68.9h0.9M474.9 73.1h0.9M470.8 66.6h0.9M474.8 72.9h0.9M474.1 70.0h0.9" stroke="#888" stroke-width="0.9" opacity="0.8" fill="none"/>
<rect x="310.9" y="27.0" width="97.6" height="82.2" fill="none" stroke="#444" stroke-width="1"/>
<line x1="350.8" y1="27.0" x2="350.8" y2="109.2" stroke="#333" stroke-width="1"/>
<line x1="310.9" y1="63.6" x2="408.5" y2="63.6" stroke="#333" stroke-width="1"/>
<rect x="425.6" y="26.8" width="90.4" height="82.6" fill="none" stroke="#444" stroke-width="1"/>
<line x1="465.8" y1="26.8" x2="465.8" y2="109.4" stroke="#333" stroke-width="1"/>
<line x1="425.6" y1="63.5" x2="516.0" y2="63.5" stroke="#333" stroke-width="1"/>
<text x="312.7" y="32.7" font-size="5.4" fill="#222" textLength="12.3" lengthAdjust="spacingAndGlyphs">1.53</text>
<text x="394.4" y="32.7" font-size="5.4" fill="#222" textLength="12.1" lengthAdjust="spacingAndGlyphs">8.76</text>
<text x="312.6" y="107.7" font-size="5.4" fill="#222" textLength="11.6" lengthAdjust="spacingAndGlyphs">29.1</text>
<text x="394.4" y="107.7" font-size="5.4" fill="#222" textLength="12.1" lengthAdjust="spacingAndGlyphs">60.6</text>
<text x="427.0" y="32.5" font-size="5.4" fill="#222" textLength="12.2" lengthAdjust="spacingAndGlyphs">3.14</text>
<text x="503.2" y="32.5" font-size="5.4" fill="#222" textLength="11.6" lengthAdjust="spacingAndGlyphs">78.2</text>
<text x="427.0" y="107.9" font-size="5.4" fill="#222" textLength="13.0" lengthAdjust="spacingAndGlyphs">3.26</text>
<text x="503.2" y="107.9" font-size="5.4" fill="#222" textLength="11.8" lengthAdjust="spacingAndGlyphs">15.4</text>
<text x="303.4" y="101.7" font-size="5.0" fill="#222" textLength="2.4" lengthAdjust="spacingAndGlyphs">0</text>
<text x="299.8" y="93.0" font-size="5.0" fill="#222" textLength="4.0" lengthAdjust="spacingAndGlyphs">10</text><text x="303.9" y="91.1" font-size="3.0" fill="#222">2</text>
<text x="299.8" y="73.2" font-size="5.0" fill="#222" textLength="4.0" lengthAdjust="spacingAndGlyphs">10</text><text x="303.9" y="71.3" font-size="3.0" fill="#222">3</text>
<text x="299.8" y="54.7" font-size="5.0" fill="#222" textLength="4.0" lengthAdjust="spacingAndGlyphs">10</text><text x="303.9" y="52.8" font-size="3.0" fill="#222">4</text>
<text x="299.8" y="36.7" font-size="5.0" fill="#222" textLength="4.0" lengthAdjust="spacingAndGlyphs">10</text><text x="303.9" y="34.8" font-size="3.0" fill="#222">5</text>
<text x="418.1" y="101.7" font-size="5.0" fill="#222" textLength="2.4" lengthAdjust="spacingAndGlyphs">0</text>
<text x="414.5" y="92.9" font-size="5.0" fill="#222" textLength="4.0" lengthAdjust="spacingAndGlyphs">10</text><text x="418.6" y="91.0" font-size="3.0" fill="#222">2</text>
<text x="414.5" y="73.3" font-size="5.0" fill="#222" textLength="4.0" lengthAdjust="spacingAndGlyphs">10</text><text x="418.6" y="71.4" font-size="3.0" fill="#222">3</text>
<text x="414.5" y="54.5" font-size="5.0" fill="#222" textLength="4.0" lengthAdjust="spacingAndGlyphs">10</text><text x="418.6" y="52.6" font-size="3.0" fill="#222">4</text>
<text x="414.5" y="36.2" font-size="5.0" fill="#222" textLength="4.0" lengthAdjust="spacingAndGlyphs">10</text><text x="418.6" y="34.3" font-size="3.0" fill="#222">5</text>
<text x="321.0" y="117.1" font-size="4.8" fill="#333" text-anchor="middle">0</text>
<text x="327.6" y="117.1" font-size="4.8" fill="#333" textLength="3.6" lengthAdjust="spacingAndGlyphs">10</text><text x="331.4" y="115.3" font-size="2.9" fill="#333">2</text>
<text x="351.2" y="117.1" font-size="4.8" fill="#333" textLength="3.6" lengthAdjust="spacingAndGlyphs">10</text><text x="355.0" y="115.3" font-size="2.9" fill="#333">3</text>
<text x="373.7" y="117.1" font-size="4.8" fill="#333" textLength="3.6" lengthAdjust="spacingAndGlyphs">10</text><text x="377.5" y="115.3" font-size="2.9" fill="#333">4</text>
<text x="394.9" y="117.1" font-size="4.8" fill="#333" textLength="3.6" lengthAdjust="spacingAndGlyphs">10</text><text x="398.7" y="115.3" font-size="2.9" fill="#333">5</text>
<path d="M330.2 109.2v2.2M337.3 109.2v1.6M341.5 109.2v1.6M344.4 109.2v1.6M346.7 109.2v1.6M348.6 109.2v1.6M350.1 109.2v1.6M351.5 109.2v1.6M352.7 109.2v1.6M353.8 109.2v2.2M360.9 109.2v1.6M365.1 109.2v1.6M368.0 109.2v1.6M370.3 109.2v1.6M372.2 109.2v1.6M373.7 109.2v1.6M375.1 109.2v1.6M376.3 109.2v1.6M376.3 109.2v2.2M383.4 109.2v1.6M387.6 109.2v1.6M390.5 109.2v1.6M392.8 109.2v1.6M394.7 109.2v1.6M396.2 109.2v1.6M397.6 109.2v1.6M398.8 109.2v1.6M397.5 109.2v2.2M404.6 109.2v1.6" stroke="#111" stroke-width="0.9" fill="none"/>
<line x1="321.0" y1="109.2" x2="321.0" y2="111.4" stroke="#222" stroke-width="0.8"/>
<line x1="313.9" y1="109.2" x2="313.9" y2="111.4" stroke="#222" stroke-width="0.8"/>
<line x1="317.4" y1="109.2" x2="317.4" y2="111.4" stroke="#222" stroke-width="0.8"/>
<text x="435.7" y="117.1" font-size="4.8" fill="#333" text-anchor="middle">0</text>
<text x="442.3" y="117.1" font-size="4.8" fill="#333" textLength="3.6" lengthAdjust="spacingAndGlyphs">10</text><text x="446.1" y="115.3" font-size="2.9" fill="#333">2</text>
<text x="463.9" y="117.1" font-size="4.8" fill="#333" textLength="3.6" lengthAdjust="spacingAndGlyphs">10</text><text x="467.7" y="115.3" font-size="2.9" fill="#333">3</text>
<text x="485.4" y="117.1" font-size="4.8" fill="#333" textLength="3.6" lengthAdjust="spacingAndGlyphs">10</text><text x="489.2" y="115.3" font-size="2.9" fill="#333">4</text>
<text x="505.4" y="117.1" font-size="4.8" fill="#333" textLength="3.6" lengthAdjust="spacingAndGlyphs">10</text><text x="509.2" y="115.3" font-size="2.9" fill="#333">5</text>
<path d="M444.9 109.2v2.2M451.4 109.2v1.6M455.2 109.2v1.6M457.9 109.2v1.6M460.0 109.2v1.6M461.7 109.2v1.6M463.2 109.2v1.6M464.4 109.2v1.6M465.5 109.2v1.6M466.5 109.2v2.2M473.0 109.2v1.6M476.8 109.2v1.6M479.5 109.2v1.6M481.6 109.2v1.6M483.3 109.2v1.6M484.8 109.2v1.6M486.0 109.2v1.6M487.1 109.2v1.6M488.0 109.2v2.2M494.5 109.2v1.6M498.3 109.2v1.6M501.0 109.2v1.6M503.1 109.2v1.6M504.8 109.2v1.6M506.3 109.2v1.6M507.5 109.2v1.6M508.6 109.2v1.6M508.0 109.2v2.2M514.5 109.2v1.6" stroke="#111" stroke-width="0.9" fill="none"/>
<line x1="435.7" y1="109.2" x2="435.7" y2="111.4" stroke="#222" stroke-width="0.8"/>
<line x1="428.6" y1="109.2" x2="428.6" y2="111.4" stroke="#222" stroke-width="0.8"/>
<line x1="432.1" y1="109.2" x2="432.1" y2="111.4" stroke="#222" stroke-width="0.8"/>
<path d="M310.9 91.3h-2.2M310.9 85.3h-1.6M310.9 81.9h-1.6M310.9 79.4h-1.6M310.9 77.5h-1.6M310.9 75.9h-1.6M310.9 74.6h-1.6M310.9 73.4h-1.6M310.9 72.4h-1.6M310.9 71.5h-2.2M310.9 65.5h-1.6M310.9 62.1h-1.6M310.9 59.6h-1.6M310.9 57.7h-1.6M310.9 56.1h-1.6M310.9 54.8h-1.6M310.9 53.6h-1.6M310.9 52.6h-1.6M310.9 53.0h-2.2M310.9 47.0h-1.6M310.9 43.6h-1.6M310.9 41.1h-1.6M310.9 39.2h-1.6M310.9 37.6h-1.6M310.9 36.3h-1.6M310.9 35.1h-1.6M310.9 34.1h-1.6M310.9 35.0h-2.2M310.9 29.0h-1.6" stroke="#111" stroke-width="0.9" fill="none"/>
<path d="M425.6 91.2h-2.2M425.6 85.3h-1.6M425.6 81.8h-1.6M425.6 79.4h-1.6M425.6 77.5h-1.6M425.6 75.9h-1.6M425.6 74.6h-1.6M425.6 73.5h-1.6M425.6 72.5h-1.6M425.6 71.6h-2.2M425.6 65.7h-1.6M425.6 62.2h-1.6M425.6 59.8h-1.6M425.6 57.9h-1.6M425.6 56.3h-1.6M425.6 55.0h-1.6M425.6 53.9h-1.6M425.6 52.9h-1.6M425.6 52.8h-2.2M425.6 46.9h-1.6M425.6 43.4h-1.6M425.6 41.0h-1.6M425.6 39.1h-1.6M425.6 37.5h-1.6M425.6 36.2h-1.6M425.6 35.1h-1.6M425.6 34.1h-1.6M425.6 34.5h-2.2M425.6 28.6h-1.6" stroke="#111" stroke-width="0.9" fill="none"/>
<line x1="309.1" y1="100.0" x2="310.9" y2="100.0" stroke="#222" stroke-width="0.8"/>
<line x1="309.1" y1="95.5" x2="310.9" y2="95.5" stroke="#222" stroke-width="0.8"/>
<line x1="309.1" y1="104.5" x2="310.9" y2="104.5" stroke="#222" stroke-width="0.8"/>
<line x1="309.1" y1="107.5" x2="310.9" y2="107.5" stroke="#222" stroke-width="0.8"/>
<line x1="423.8" y1="100.0" x2="425.6" y2="100.0" stroke="#222" stroke-width="0.8"/>
<line x1="423.8" y1="95.5" x2="425.6" y2="95.5" stroke="#222" stroke-width="0.8"/>
<line x1="423.8" y1="104.5" x2="425.6" y2="104.5" stroke="#222" stroke-width="0.8"/>
<line x1="423.8" y1="107.5" x2="425.6" y2="107.5" stroke="#222" stroke-width="0.8"/>
<line x1="310.9" y1="27.0" x2="310.9" y2="109.2" stroke="#111" stroke-width="1.5"/>
<line x1="310.9" y1="109.2" x2="408.5" y2="109.2" stroke="#111" stroke-width="1.5"/>
<line x1="425.6" y1="26.8" x2="425.6" y2="109.4" stroke="#111" stroke-width="1.5"/>
<line x1="425.6" y1="109.4" x2="516.0" y2="109.4" stroke="#111" stroke-width="1.5"/>
<path d="M292.4 126.4V79.5M289.0 83.3L292.4 78.6L295.8 83.3" fill="none" stroke="#000" stroke-width="2" stroke-linecap="round" stroke-linejoin="round"/>
<path d="M292.4 127.0H374.3M367.7 123.6L375.3 127.0L367.7 130.4" fill="none" stroke="#000" stroke-width="2" stroke-linecap="round" stroke-linejoin="round"/>
<text transform="translate(286.3,117.7) rotate(-90)" font-size="11.8" fill="#111" stroke="#111" stroke-width="0.15" textLength="29.4" lengthAdjust="spacingAndGlyphs">FoxP3</text>
<text x="316.4" y="139.5" font-size="12.15" font-weight="normal" fill="#111" stroke="#111" stroke-width="0.3" textLength="20.0" lengthAdjust="spacingAndGlyphs" >CD4</text>
<rect x="304.9" y="172.2" width="90.3" height="86.6" fill="none" stroke="#222" stroke-width="1.0"/>
<line x1="304.9" y1="171.7" x2="304.9" y2="259.5" stroke="#000" stroke-width="1.4"/>
<line x1="304.2" y1="258.8" x2="395.7" y2="258.8" stroke="#000" stroke-width="1.4"/>
<text x="313.0" y="186.3" font-size="13.97" font-weight="bold" fill="#000" textLength="9.0" lengthAdjust="spacingAndGlyphs" >C</text>
<text x="293.4" y="178.4" font-size="5.4" fill="#333" textLength="7.2" lengthAdjust="spacingAndGlyphs">150</text>
<line x1="302.7" y1="176.5" x2="304.9" y2="176.5" stroke="#111" stroke-width="0.9"/>
<text x="293.4" y="206.3" font-size="5.4" fill="#333" textLength="7.2" lengthAdjust="spacingAndGlyphs">100</text>
<line x1="302.7" y1="204.4" x2="304.9" y2="204.4" stroke="#111" stroke-width="0.9"/>
<text x="295.8" y="233.5" font-size="5.4" fill="#333" textLength="4.8" lengthAdjust="spacingAndGlyphs">50</text>
<line x1="302.7" y1="231.6" x2="304.9" y2="231.6" stroke="#111" stroke-width="0.9"/>
<text x="298.2" y="260.9" font-size="5.4" fill="#333" textLength="2.4" lengthAdjust="spacingAndGlyphs">0</text>
<line x1="302.7" y1="259.0" x2="304.9" y2="259.0" stroke="#111" stroke-width="0.9"/>
<path d="M304.9 259.0h-1.4M304.9 253.5h-1.4M304.9 248.0h-1.4M304.9 242.6h-1.4M304.9 237.1h-1.4M304.9 231.6h-1.4M304.9 226.1h-1.4M304.9 220.6h-1.4M304.9 215.2h-1.4M304.9 209.7h-1.4M304.9 204.2h-1.4M304.9 198.7h-1.4M304.9 193.2h-1.4M304.9 187.8h-1.4M304.9 182.3h-1.4M304.9 176.8h-1.4" stroke="#111" stroke-width="0.9" fill="none"/>
<text x="314.4" y="267.2" font-size="4.6" fill="#333" text-anchor="middle">0</text>
<text x="320.8" y="267.2" font-size="4.6" fill="#333" textLength="3.4" lengthAdjust="spacingAndGlyphs">10</text><text x="324.5" y="265.5" font-size="2.8" fill="#333">2</text>
<text x="342.0" y="267.2" font-size="4.6" fill="#333" textLength="3.4" lengthAdjust="spacingAndGlyphs">10</text><text x="345.7" y="265.5" font-size="2.8" fill="#333">3</text>
<text x="363.1" y="267.2" font-size="4.6" fill="#333" textLength="3.4" lengthAdjust="spacingAndGlyphs">10</text><text x="366.8" y="265.5" font-size="2.8" fill="#333">4</text>
<text x="384.8" y="267.2" font-size="4.6" fill="#333" textLength="3.4" lengthAdjust="spacingAndGlyphs">10</text><text x="388.5" y="265.5" font-size="2.8" fill="#333">5</text>
<path d="M323.4 258.8v2.5M329.8 258.8v1.8M333.5 258.8v1.8M336.2 258.8v1.8M338.2 258.8v1.8M339.9 258.8v1.8M341.3 258.8v1.8M342.5 258.8v1.8M343.6 258.8v1.8M344.6 258.8v2.5M351.0 258.8v1.8M354.7 258.8v1.8M357.4 258.8v1.8M359.4 258.8v1.8M361.1 258.8v1.8M362.5 258.8v1.8M363.7 258.8v1.8M364.8 258.8v1.8M365.7 258.8v2.5M372.1 258.8v1.8M375.8 258.8v1.8M378.5 258.8v1.8M380.5 258.8v1.8M382.2 258.8v1.8M383.6 258.8v1.8M384.8 258.8v1.8M385.9 258.8v1.8M387.4 258.8v2.5M393.8 258.8v1.8" stroke="#111" stroke-width="0.9" fill="none"/>
<line x1="307.4" y1="258.8" x2="307.4" y2="261.0" stroke="#111" stroke-width="0.9"/>
<line x1="310.4" y1="258.8" x2="310.4" y2="261.0" stroke="#111" stroke-width="0.9"/>
<line x1="314.4" y1="258.8" x2="314.4" y2="261.0" stroke="#111" stroke-width="0.9"/>
<path d="M304.9 228.0H353.9M353.9 225.2V230.8M353.9 218.3H395.2M353.9 215.5V221.1" stroke="#3a3a3a" stroke-width="1.1" fill="none"/>
<text x="306.0" y="223.4" font-size="8.6" fill="#222" stroke="#222" stroke-width="0.15" textLength="15.8" lengthAdjust="spacingAndGlyphs">50.2</text>
<text x="376.9" y="215.7" font-size="8.6" fill="#222" stroke="#222" stroke-width="0.15" textLength="16.5" lengthAdjust="spacingAndGlyphs">49.8</text>
<rect x="420.3" y="172.0" width="89.1" height="86.8" fill="none" stroke="#222" stroke-width="1.0"/>
<line x1="420.3" y1="171.5" x2="420.3" y2="259.5" stroke="#000" stroke-width="1.4"/>
<line x1="419.6" y1="258.8" x2="509.9" y2="258.8" stroke="#000" stroke-width="1.4"/>
<text x="428.0" y="186.6" font-size="13.97" font-weight="bold" fill="#000" textLength="10.1" lengthAdjust="spacingAndGlyphs" >D</text>
<text x="408.8" y="189.5" font-size="5.4" fill="#333" textLength="7.2" lengthAdjust="spacingAndGlyphs">200</text>
<line x1="418.1" y1="187.6" x2="420.3" y2="187.6" stroke="#111" stroke-width="0.9"/>
<text x="408.8" y="207.1" font-size="5.4" fill="#333" textLength="7.2" lengthAdjust="spacingAndGlyphs">150</text>
<line x1="418.1" y1="205.2" x2="420.3" y2="205.2" stroke="#111" stroke-width="0.9"/>
<text x="408.8" y="224.9" font-size="5.4" fill="#333" textLength="7.2" lengthAdjust="spacingAndGlyphs">100</text>
<line x1="418.1" y1="223.0" x2="420.3" y2="223.0" stroke="#111" stroke-width="0.9"/>
<text x="411.2" y="242.7" font-size="5.4" fill="#333" textLength="4.8" lengthAdjust="spacingAndGlyphs">50</text>
<line x1="418.1" y1="240.8" x2="420.3" y2="240.8" stroke="#111" stroke-width="0.9"/>
<text x="413.6" y="260.5" font-size="5.4" fill="#333" textLength="2.4" lengthAdjust="spacingAndGlyphs">0</text>
<line x1="418.1" y1="258.6" x2="420.3" y2="258.6" stroke="#111" stroke-width="0.9"/>
<path d="M420.3 258.6h-1.4M420.3 255.0h-1.4M420.3 251.5h-1.4M420.3 247.9h-1.4M420.3 244.4h-1.4M420.3 240.8h-1.4M420.3 237.2h-1.4M420.3 233.7h-1.4M420.3 230.1h-1.4M420.3 226.6h-1.4M420.3 223.0h-1.4M420.3 219.4h-1.4M420.3 215.9h-1.4M420.3 212.3h-1.4M420.3 208.8h-1.4M420.3 205.2h-1.4M420.3 201.6h-1.4M420.3 198.1h-1.4M420.3 194.5h-1.4M420.3 191.0h-1.4M420.3 187.4h-1.4M420.3 183.8h-1.4M420.3 180.3h-1.4M420.3 176.7h-1.4M420.3 173.2h-1.4" stroke="#111" stroke-width="0.9" fill="none"/>
<text x="429.8" y="267.2" font-size="4.6" fill="#333" text-anchor="middle">0</text>
<text x="436.2" y="267.2" font-size="4.6" fill="#333" textLength="3.4" lengthAdjust="spacingAndGlyphs">10</text><text x="439.9" y="265.5" font-size="2.8" fill="#333">2</text>
<text x="457.4" y="267.2" font-size="4.6" fill="#333" textLength="3.4" lengthAdjust="spacingAndGlyphs">10</text><text x="461.1" y="265.5" font-size="2.8" fill="#333">3</text>
<text x="478.5" y="267.2" font-size="4.6" fill="#333" textLength="3.4" lengthAdjust="spacingAndGlyphs">10</text><text x="482.2" y="265.5" font-size="2.8" fill="#333">4</text>
<text x="500.2" y="267.2" font-size="4.6" fill="#333" textLength="3.4" lengthAdjust="spacingAndGlyphs">10</text><text x="503.9" y="265.5" font-size="2.8" fill="#333">5</text>
<path d="M438.8 258.8v2.5M445.2 258.8v1.8M448.9 258.8v1.8M451.6 258.8v1.8M453.6 258.8v1.8M455.3 258.8v1.8M456.7 258.8v1.8M457.9 258.8v1.8M459.0 258.8v1.8M460.0 258.8v2.5M466.4 258.8v1.8M470.1 258.8v1.8M472.8 258.8v1.8M474.8 258.8v1.8M476.5 258.8v1.8M477.9 258.8v1.8M479.1 258.8v1.8M480.2 258.8v1.8M481.1 258.8v2.5M487.5 258.8v1.8M491.2 258.8v1.8M493.9 258.8v1.8M495.9 258.8v1.8M497.6 258.8v1.8M499.0 258.8v1.8M500.2 258.8v1.8M501.3 258.8v1.8M502.8 258.8v2.5M509.2 258.8v1.8" stroke="#111" stroke-width="0.9" fill="none"/>
<line x1="422.8" y1="258.8" x2="422.8" y2="261.0" stroke="#111" stroke-width="0.9"/>
<line x1="425.8" y1="258.8" x2="425.8" y2="261.0" stroke="#111" stroke-width="0.9"/>
<line x1="429.8" y1="258.8" x2="429.8" y2="261.0" stroke="#111" stroke-width="0.9"/>
<path d="M420.3 228.3H467.4M467.4 225.5V231.1M467.4 218.4H509.4M467.4 215.6V221.2" stroke="#3a3a3a" stroke-width="1.1" fill="none"/>
<text x="421.2" y="222.9" font-size="8.6" fill="#222" stroke="#222" stroke-width="0.15" textLength="15.0" lengthAdjust="spacingAndGlyphs">44.1</text>
<text x="491.9" y="215.8" font-size="8.6" fill="#222" stroke="#222" stroke-width="0.15" textLength="15.9" lengthAdjust="spacingAndGlyphs">55.9</text>
<rect x="304.6" y="276.6" width="90.8" height="87.2" fill="none" stroke="#222" stroke-width="1.0"/>
<line x1="304.6" y1="276.1" x2="304.6" y2="364.5" stroke="#000" stroke-width="1.4"/>
<line x1="303.9" y1="363.8" x2="395.9" y2="363.8" stroke="#000" stroke-width="1.4"/>
<text x="313.8" y="292.9" font-size="13.97" font-weight="bold" fill="#000" textLength="8.2" lengthAdjust="spacingAndGlyphs" >E</text>
<text x="293.1" y="281.5" font-size="5.4" fill="#333" textLength="7.2" lengthAdjust="spacingAndGlyphs">400</text>
<line x1="302.4" y1="279.6" x2="304.6" y2="279.6" stroke="#111" stroke-width="0.9"/>
<text x="293.1" y="302.9" font-size="5.4" fill="#333" textLength="7.2" lengthAdjust="spacingAndGlyphs">300</text>
<line x1="302.4" y1="301.0" x2="304.6" y2="301.0" stroke="#111" stroke-width="0.9"/>
<text x="293.1" y="324.0" font-size="5.4" fill="#333" textLength="7.2" lengthAdjust="spacingAndGlyphs">200</text>
<line x1="302.4" y1="322.1" x2="304.6" y2="322.1" stroke="#111" stroke-width="0.9"/>
<text x="293.1" y="345.6" font-size="5.4" fill="#333" textLength="7.2" lengthAdjust="spacingAndGlyphs">100</text>
<line x1="302.4" y1="343.7" x2="304.6" y2="343.7" stroke="#111" stroke-width="0.9"/>
<text x="297.9" y="365.9" font-size="5.4" fill="#333" textLength="2.4" lengthAdjust="spacingAndGlyphs">0</text>
<line x1="302.4" y1="364.0" x2="304.6" y2="364.0" stroke="#111" stroke-width="0.9"/>
<path d="M304.6 364.0h-1.4M304.6 359.9h-1.4M304.6 355.9h-1.4M304.6 351.8h-1.4M304.6 347.8h-1.4M304.6 343.7h-1.4M304.6 339.6h-1.4M304.6 335.6h-1.4M304.6 331.5h-1.4M304.6 327.5h-1.4M304.6 323.4h-1.4M304.6 319.3h-1.4M304.6 315.3h-1.4M304.6 311.2h-1.4M304.6 307.2h-1.4M304.6 303.1h-1.4M304.6 299.0h-1.4M304.6 295.0h-1.4M304.6 290.9h-1.4M304.6 286.9h-1.4M304.6 282.8h-1.4M304.6 278.7h-1.4" stroke="#111" stroke-width="0.9" fill="none"/>
<text x="314.1" y="372.2" font-size="4.6" fill="#333" text-anchor="middle">0</text>
<text x="320.5" y="372.2" font-size="4.6" fill="#333" textLength="3.4" lengthAdjust="spacingAndGlyphs">10</text><text x="324.2" y="370.5" font-size="2.8" fill="#333">2</text>
<text x="341.7" y="372.2" font-size="4.6" fill="#333" textLength="3.4" lengthAdjust="spacingAndGlyphs">10</text><text x="345.4" y="370.5" font-size="2.8" fill="#333">3</text>
<text x="362.8" y="372.2" font-size="4.6" fill="#333" textLength="3.4" lengthAdjust="spacingAndGlyphs">10</text><text x="366.5" y="370.5" font-size="2.8" fill="#333">4</text>
<text x="384.5" y="372.2" font-size="4.6" fill="#333" textLength="3.4" lengthAdjust="spacingAndGlyphs">10</text><text x="388.2" y="370.5" font-size="2.8" fill="#333">5</text>
<path d="M323.1 363.8v2.5M329.5 363.8v1.8M333.2 363.8v1.8M335.9 363.8v1.8M337.9 363.8v1.8M339.6 363.8v1.8M341.0 363.8v1.8M342.2 363.8v1.8M343.3 363.8v1.8M344.3 363.8v2.5M350.7 363.8v1.8M354.4 363.8v1.8M357.1 363.8v1.8M359.1 363.8v1.8M360.8 363.8v1.8M362.2 363.8v1.8M363.4 363.8v1.8M364.5 363.8v1.8M365.4 363.8v2.5M371.8 363.8v1.8M375.5 363.8v1.8M378.2 363.8v1.8M380.2 363.8v1.8M381.9 363.8v1.8M383.3 363.8v1.8M384.5 363.8v1.8M385.6 363.8v1.8M387.1 363.8v2.5M393.5 363.8v1.8" stroke="#111" stroke-width="0.9" fill="none"/>
<line x1="307.1" y1="363.8" x2="307.1" y2="366.0" stroke="#111" stroke-width="0.9"/>
<line x1="310.1" y1="363.8" x2="310.1" y2="366.0" stroke="#111" stroke-width="0.9"/>
<line x1="314.1" y1="363.8" x2="314.1" y2="366.0" stroke="#111" stroke-width="0.9"/>
<path d="M304.6 333.0H353.7M353.7 330.2V335.8M353.7 322.9H395.4M353.7 320.1V325.7" stroke="#3a3a3a" stroke-width="1.1" fill="none"/>
<text x="306.5" y="327.9" font-size="8.6" fill="#222" stroke="#222" stroke-width="0.15" textLength="15.8" lengthAdjust="spacingAndGlyphs">15.9</text>
<text x="377.8" y="320.8" font-size="8.6" fill="#222" stroke="#222" stroke-width="0.15" textLength="15.9" lengthAdjust="spacingAndGlyphs">84.1</text>
<rect x="420.6" y="276.6" width="88.8" height="87.0" fill="none" stroke="#222" stroke-width="1.0"/>
<line x1="420.6" y1="276.1" x2="420.6" y2="364.3" stroke="#000" stroke-width="1.4"/>
<line x1="419.9" y1="363.6" x2="509.9" y2="363.6" stroke="#000" stroke-width="1.4"/>
<text x="428.0" y="292.9" font-size="13.97" font-weight="bold" fill="#000" textLength="7.6" lengthAdjust="spacingAndGlyphs" >F</text>
<text x="409.1" y="300.4" font-size="5.4" fill="#333" textLength="7.2" lengthAdjust="spacingAndGlyphs">300</text>
<line x1="418.4" y1="298.5" x2="420.6" y2="298.5" stroke="#111" stroke-width="0.9"/>
<text x="409.1" y="322.2" font-size="5.4" fill="#333" textLength="7.2" lengthAdjust="spacingAndGlyphs">200</text>
<line x1="418.4" y1="320.3" x2="420.6" y2="320.3" stroke="#111" stroke-width="0.9"/>
<text x="409.1" y="344.4" font-size="5.4" fill="#333" textLength="7.2" lengthAdjust="spacingAndGlyphs">100</text>
<line x1="418.4" y1="342.5" x2="420.6" y2="342.5" stroke="#111" stroke-width="0.9"/>
<text x="413.9" y="365.9" font-size="5.4" fill="#333" textLength="2.4" lengthAdjust="spacingAndGlyphs">0</text>
<line x1="418.4" y1="364.0" x2="420.6" y2="364.0" stroke="#111" stroke-width="0.9"/>
<path d="M420.6 364.0h-1.4M420.6 359.7h-1.4M420.6 355.4h-1.4M420.6 351.1h-1.4M420.6 346.8h-1.4M420.6 342.5h-1.4M420.6 338.2h-1.4M420.6 333.9h-1.4M420.6 329.6h-1.4M420.6 325.3h-1.4M420.6 321.0h-1.4M420.6 316.7h-1.4M420.6 312.4h-1.4M420.6 308.1h-1.4M420.6 303.8h-1.4M420.6 299.5h-1.4M420.6 295.2h-1.4M420.6 290.9h-1.4M420.6 286.6h-1.4M420.6 282.3h-1.4M420.6 278.0h-1.4" stroke="#111" stroke-width="0.9" fill="none"/>
<text x="430.1" y="372.0" font-size="4.6" fill="#333" text-anchor="middle">0</text>
<text x="436.5" y="372.0" font-size="4.6" fill="#333" textLength="3.4" lengthAdjust="spacingAndGlyphs">10</text><text x="440.2" y="370.3" font-size="2.8" fill="#333">2</text>
<text x="457.7" y="372.0" font-size="4.6" fill="#333" textLength="3.4" lengthAdjust="spacingAndGlyphs">10</text><text x="461.4" y="370.3" font-size="2.8" fill="#333">3</text>
<text x="478.8" y="372.0" font-size="4.6" fill="#333" textLength="3.4" lengthAdjust="spacingAndGlyphs">10</text><text x="482.5" y="370.3" font-size="2.8" fill="#333">4</text>
<text x="500.5" y="372.0" font-size="4.6" fill="#333" textLength="3.4" lengthAdjust="spacingAndGlyphs">10</text><text x="504.2" y="370.3" font-size="2.8" fill="#333">5</text>
<path d="M439.1 363.6v2.5M445.5 363.6v1.8M449.2 363.6v1.8M451.9 363.6v1.8M453.9 363.6v1.8M455.6 363.6v1.8M457.0 363.6v1.8M458.2 363.6v1.8M459.3 363.6v1.8M460.3 363.6v2.5M466.7 363.6v1.8M470.4 363.6v1.8M473.1 363.6v1.8M475.1 363.6v1.8M476.8 363.6v1.8M478.2 363.6v1.8M479.4 363.6v1.8M480.5 363.6v1.8M481.4 363.6v2.5M487.8 363.6v1.8M491.5 363.6v1.8M494.2 363.6v1.8M496.2 363.6v1.8M497.9 363.6v1.8M499.3 363.6v1.8M500.5 363.6v1.8M501.6 363.6v1.8M503.1 363.6v2.5" stroke="#111" stroke-width="0.9" fill="none"/>
<line x1="423.1" y1="363.6" x2="423.1" y2="365.8" stroke="#111" stroke-width="0.9"/>
<line x1="426.1" y1="363.6" x2="426.1" y2="365.8" stroke="#111" stroke-width="0.9"/>
<line x1="430.1" y1="363.6" x2="430.1" y2="365.8" stroke="#111" stroke-width="0.9"/>
<path d="M420.6 333.0H468.6M468.6 330.2V335.8M468.6 323.0H509.4M468.6 320.2V325.8" stroke="#3a3a3a" stroke-width="1.1" fill="none"/>
<text x="422.5" y="327.6" font-size="8.6" fill="#222" stroke="#222" stroke-width="0.15" textLength="14.9" lengthAdjust="spacingAndGlyphs">15.8</text>
<text x="492.8" y="320.8" font-size="8.6" fill="#222" stroke="#222" stroke-width="0.15" textLength="15.5" lengthAdjust="spacingAndGlyphs">84.2</text>
<text x="300.1" y="392.9" font-size="13.55" font-weight="normal" fill="#111" stroke="#111" stroke-width="0.3" textLength="30.0" lengthAdjust="spacingAndGlyphs" >CFSE</text>
<path d="M338.2 389.2H476.9M470.6 385.6L477.9 389.2L470.6 392.8" fill="none" stroke="#000" stroke-width="2.2" stroke-linecap="round" stroke-linejoin="round"/>
</svg></body></html>
